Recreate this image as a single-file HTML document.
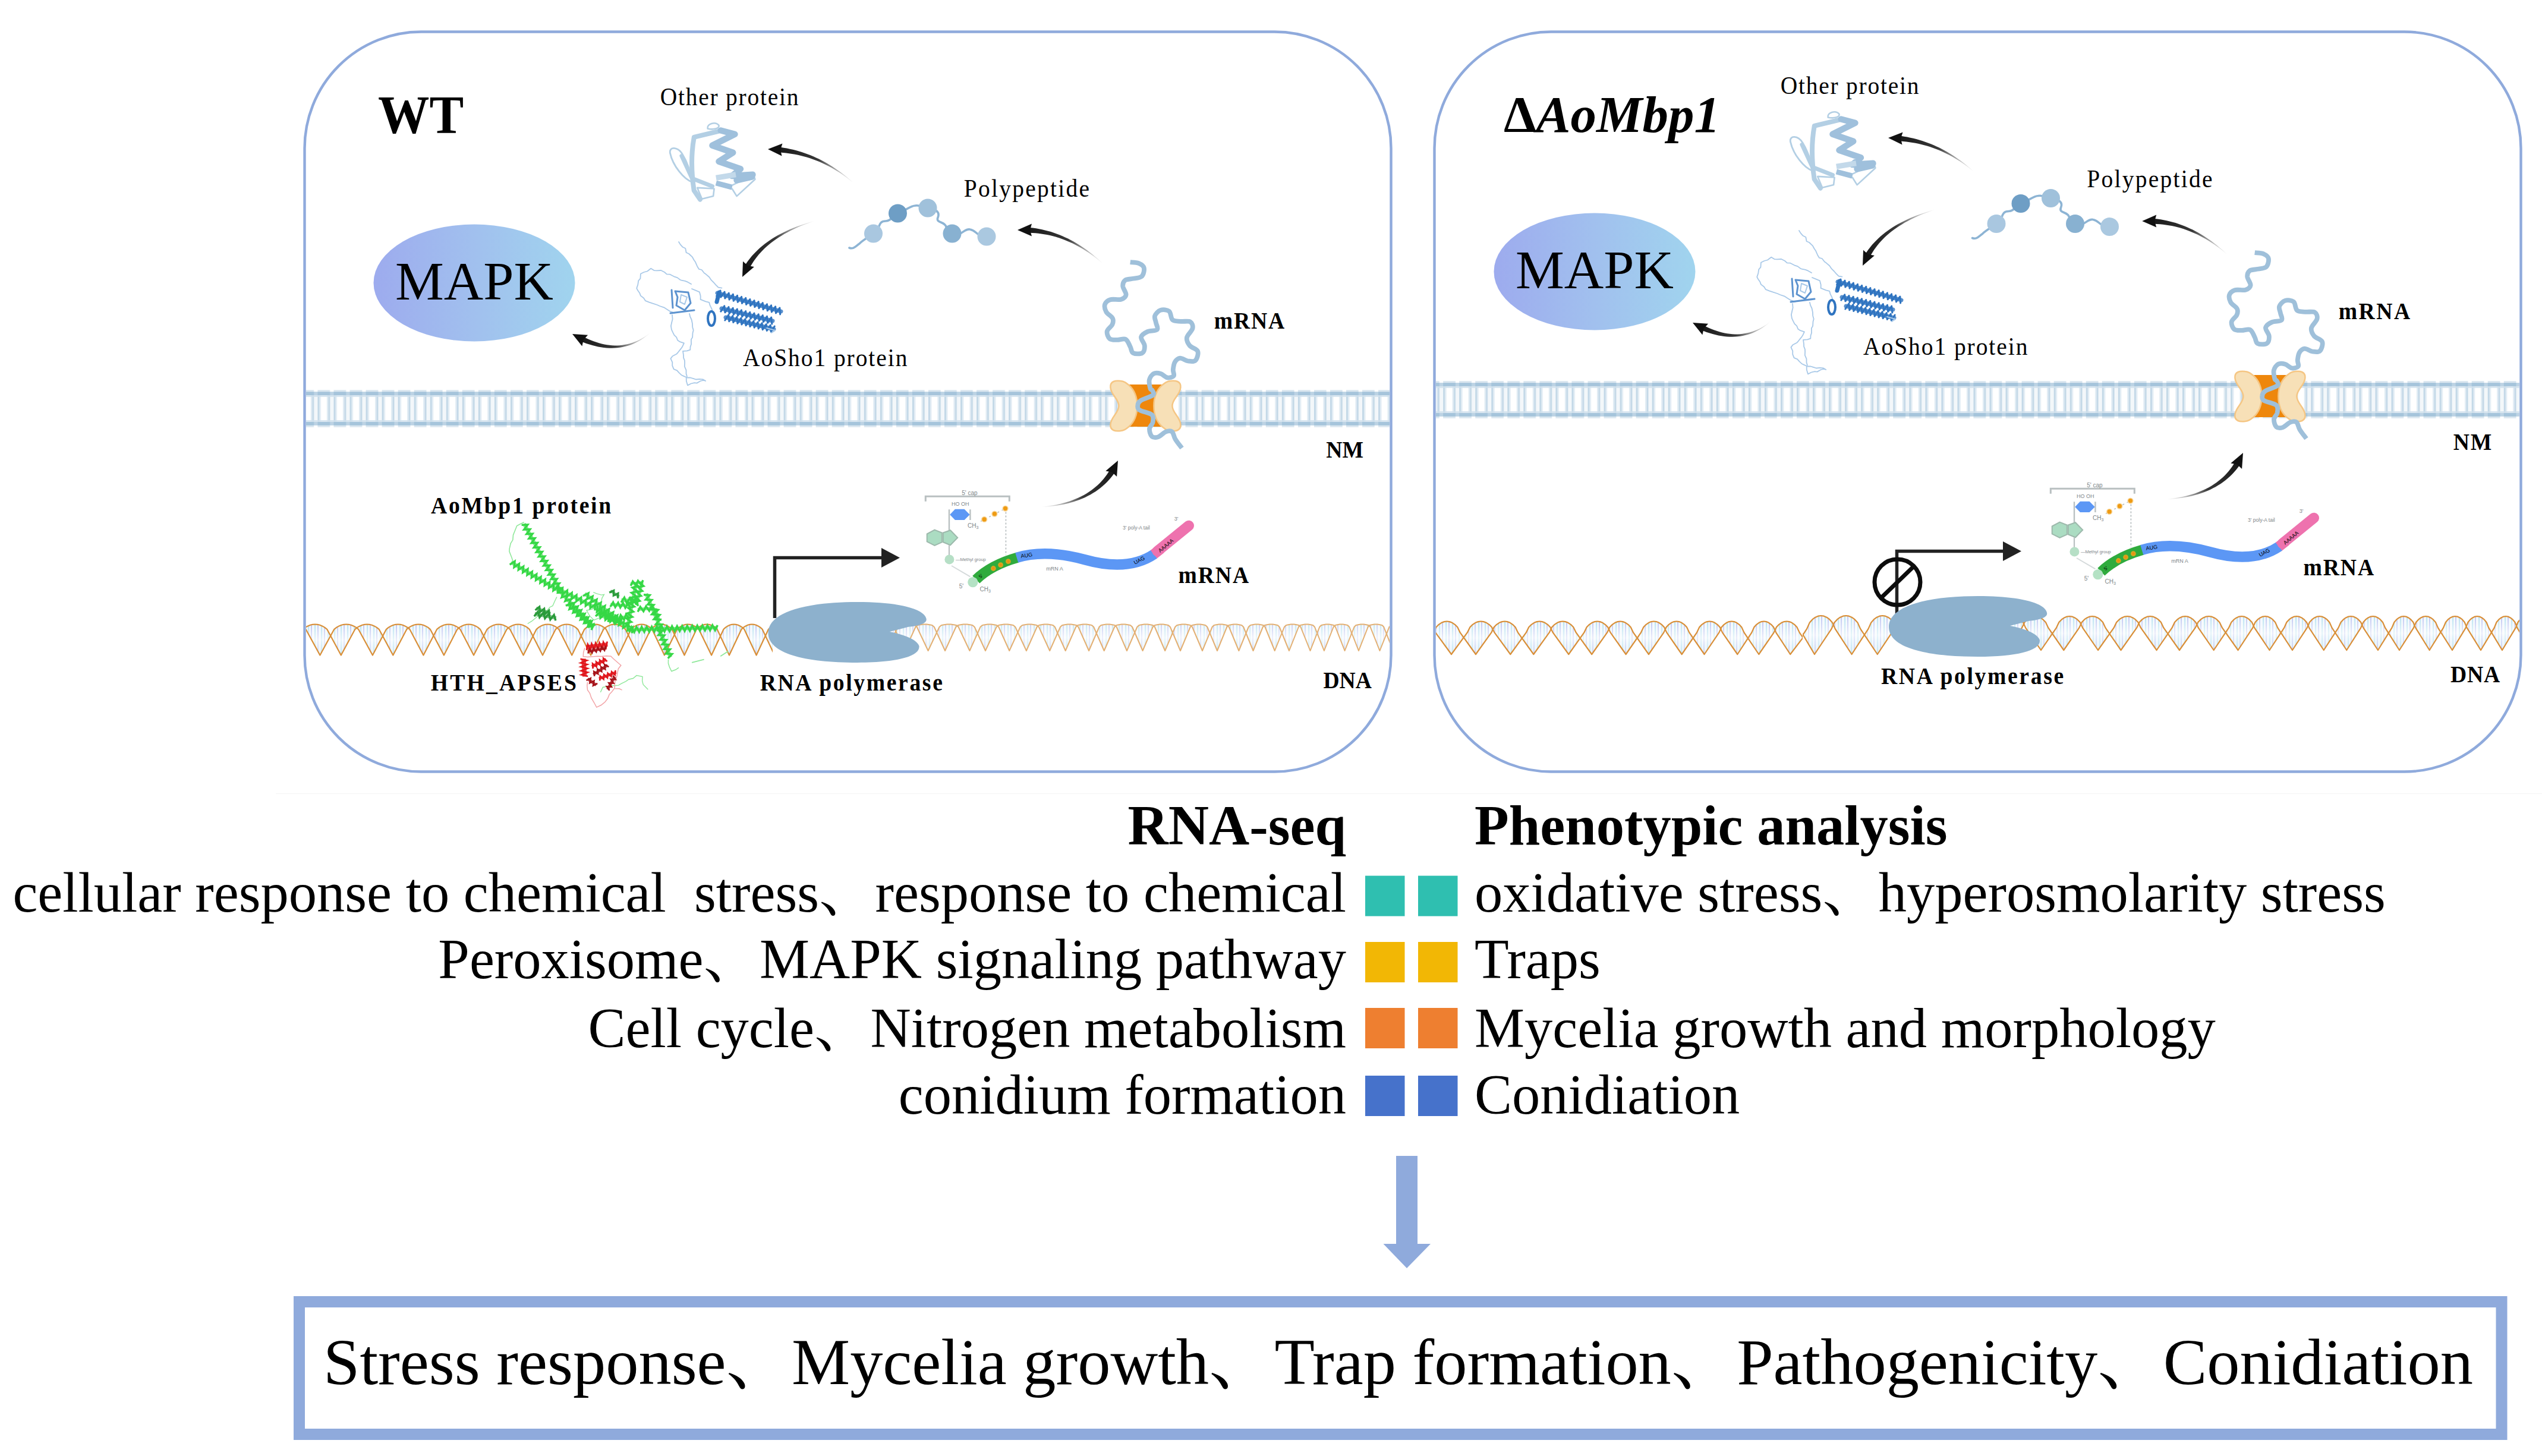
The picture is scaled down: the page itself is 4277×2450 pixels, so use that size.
<!DOCTYPE html>
<html><head><meta charset="utf-8"><title>AoMbp1 model</title>
<style>
html,body{margin:0;padding:0;background:#fff}
svg{display:block}
text{font-family:"Liberation Serif","Noto Serif CJK SC",serif;fill:#000}
.b{font-weight:bold}
.lab{font-size:41px;letter-spacing:1.2px;fill:#1a1a1a}
.labb{font-size:39px;letter-spacing:1.6px;font-weight:bold;fill:#111}
.big{font-size:94.5px}
.tiny{font-family:"Liberation Sans",sans-serif;fill:#7d8588}
</style></head><body>
<svg width="4277" height="2450" viewBox="0 0 4277 2450">
<defs>
<linearGradient id="mapk" x1="0" y1="0" x2="1" y2="0"><stop offset="0" stop-color="#9dabee"/><stop offset="0.5" stop-color="#a1c0ee"/><stop offset="1" stop-color="#a0d4ee"/></linearGradient>
<pattern id="memb" patternUnits="userSpaceOnUse" x="0" y="0" width="27.04" height="80"><rect x="0" y="0" width="27.04" height="80" fill="#f3f7fa"/><rect x="0" y="0" width="20.8" height="80" fill="#c3d8e7"/><rect x="2.8" y="0" width="15.2" height="80" fill="#e1ecf4"/><rect x="5.4" y="0" width="10" height="80" fill="#fff"/></pattern>
<pattern id="membl" patternUnits="userSpaceOnUse" x="0" y="0" width="27.04" height="80"><rect x="0" y="0" width="27.04" height="80" fill="#bcd3e4"/><rect x="0" y="0" width="20.8" height="80" fill="#a5c4db"/></pattern>
<pattern id="membf" patternUnits="userSpaceOnUse" x="0" y="0" width="27.04" height="80"><rect x="0" y="0" width="20.8" height="80" fill="#dbe7f0"/></pattern>
<pattern id="dnastripe" patternUnits="userSpaceOnUse" width="11" height="10"><rect width="11" height="10" fill="#eef6fc"/><rect x="1" width="2.2" height="10" fill="#9fd8ec"/><rect x="6" width="2" height="10" fill="#aab2ee"/></pattern>
<linearGradient id="dnafade" x1="0" y1="0" x2="0" y2="1"><stop offset="0" stop-color="#fff" stop-opacity="0.25"/><stop offset="0.5" stop-color="#fff" stop-opacity="0.75"/><stop offset="1" stop-color="#e4f1fa" stop-opacity="0.5"/></linearGradient>
</defs>
<rect x="512.5" y="53.5" width="1828" height="1245" rx="196" ry="196" fill="none" stroke="#8faadc" stroke-width="4.4"/>
<rect x="2413.5" y="53.5" width="1828" height="1245" rx="196" ry="196" fill="none" stroke="#8faadc" stroke-width="4.4"/>
<g transform="translate(507.4,0)">
<rect x="7.6" y="656.1" width="1823" height="62.8" fill="url(#membf)"/>
<rect x="7.6" y="662.1" width="1823" height="50.8" fill="url(#memb)"/>
<rect x="7.6" y="665" width="1823" height="3" fill="#d0e0ec" fill-opacity="0.8"/>
<rect x="7.6" y="707" width="1823" height="3" fill="#d0e0ec" fill-opacity="0.8"/>
<rect x="7.6" y="659.2" width="1823" height="5.8" fill="url(#membl)"/>
<rect x="7.6" y="710" width="1823" height="5.8" fill="url(#membl)"/>
</g>
<g transform="translate(1927.4,683)">
<rect x="-30" y="-36" width="60" height="71" fill="#ee870c"/>
<path d="M-59 -31 C-60 -42 -50 -43 -42 -42 C-36 -41.5 -33 -39 -28 -35 C-19 -27 -14 -14 -14 0 C-14 14 -19 27 -28 35 C-33 39 -36 41.5 -42 42 C-50 43 -60 42 -59 31 C-58 18 -45 12 -45 0 C-45 -12 -58 -18 -59 -31Z" fill="#f7e0b7" stroke="#f5c684" stroke-width="2.5"/>
<path d="M-59 -31 C-60 -42 -50 -43 -42 -42 C-36 -41.5 -33 -39 -28 -35 C-19 -27 -14 -14 -14 0 C-14 14 -19 27 -28 35 C-33 39 -36 41.5 -42 42 C-50 43 -60 42 -59 31 C-58 18 -45 12 -45 0 C-45 -12 -58 -18 -59 -31Z" transform="scale(-1,1)" fill="#f7e0b7" stroke="#f5c684" stroke-width="2.5"/>
</g>
<path d="M1901.7 441.2 C1904.1 441.5 1912.3 441.5 1916.2 443.1 C1920 444.7 1924 447.1 1924.8 450.8 C1925.6 454.5 1924.3 462.1 1921 465.2 C1917.6 468.2 1909.3 468 1904.6 469 C1900 470.1 1895.6 469.5 1893.1 471.5 C1890.5 473.6 1889 477.5 1889.2 481.5 C1889.5 485.6 1895.1 492.3 1894.6 496 C1894.1 499.6 1890.8 502.3 1886.3 503.7 C1881.9 505 1872.6 502.8 1868.1 504.2 C1863.5 505.7 1860.2 508.9 1859 512.3 C1857.9 515.7 1859.2 521 1861.3 524.8 C1863.5 528.7 1870.2 531.9 1871.9 535.4 C1873.6 538.9 1873.1 542.3 1871.5 546 C1870 549.6 1863.4 553.5 1862.7 557.5 C1862 561.5 1864.3 567.6 1867.1 570 C1869.9 572.4 1875.1 571.8 1879.6 571.9 C1884.1 572.1 1890.4 569 1894 571 C1897.7 572.9 1899.6 579.6 1901.7 583.5 C1903.8 587.3 1903.2 592.3 1906.5 594 C1909.9 595.8 1918.7 596.1 1921.9 594 C1925.1 592 1926.1 586 1925.8 581.5 C1925.4 577.1 1919.2 571 1920 567.1 C1920.8 563.2 1926.1 560.2 1930.6 558.1 C1935.1 556 1944.5 557.1 1946.9 554.6 C1949.3 552.1 1945.6 546.9 1945 543.1 C1944.4 539.2 1941.8 535.1 1943.1 531.5 C1944.4 528 1948.7 523.2 1952.7 521.9 C1956.7 520.6 1963.8 521.1 1967.1 523.8 C1970.5 526.6 1969.5 535.4 1972.9 538.3 C1976.2 541.1 1982.3 540.2 1987.3 540.8 C1992.3 541.3 1999.5 539.6 2002.7 541.5 C2005.9 543.5 2007.5 548.3 2006.5 552.7 C2005.6 557.1 1997.7 563.3 1996.9 568.1 C1996.1 572.9 1998.7 577.7 2001.7 581.5 C2004.8 585.4 2013.6 587 2015.2 591.2 C2016.8 595.3 2014.1 603.8 2011.3 606.5 C2008.6 609.3 2003.2 608.1 1998.8 607.5 C1994.5 606.9 1989.1 602.4 1985.4 602.7 C1981.7 603 1978.7 606.2 1976.7 609.4 C1974.8 612.6 1974.2 618.1 1973.8 621.9 C1973.5 625.8 1976.4 630.3 1974.8 632.5 C1973.2 634.7 1967.9 636 1964.2 635.4 C1960.5 634.7 1956.5 629.8 1952.7 628.7 C1948.8 627.5 1944.3 626.9 1941.2 628.7 C1938 630.4 1934.8 635.1 1933.8 639.2 C1932.9 643.4 1934.6 650.7 1935.4 653.7 C1936.2 656.6 1938 655 1938.8 656.9 C1939.5 658.7 1943.2 661.9 1939.9 664.8 C1936.6 667.7 1923.3 671.4 1919 674.2 C1914.8 677.1 1914.5 679.5 1914.3 682.1 C1914 684.8 1913.5 687.4 1917.4 690 C1921.4 692.7 1934.3 694.5 1938 697.9 C1941.7 701.4 1940.2 706.6 1939.6 710.6 C1938.9 714.5 1934.3 717.7 1934 721.6 C1933.8 725.6 1935.5 732 1938 734.3 C1940.5 736.5 1945.1 736.4 1949 735.1 C1953 733.8 1957.9 727.8 1961.7 726.4 C1965.5 724.9 1969.3 724.3 1971.9 726.4 C1974.6 728.5 1974.7 734.4 1977.5 739 C1980.2 743.6 1986.7 751.5 1988.5 754" fill="none" stroke="#9fc0da" stroke-width="7.8" stroke-linecap="butt" stroke-linejoin="round"/>
<g transform="translate(0,0)">
<text transform="translate(1110.8,177) scale(0.940,1)" font-size="42" letter-spacing="1.87" fill="#161616">Other protein</text>
<text transform="translate(1621.8,331) scale(0.940,1)" font-size="42" letter-spacing="2.41" fill="#161616">Polypeptide</text>
<text transform="translate(1250,616.3) scale(0.940,1)" font-size="42" letter-spacing="2.07" fill="#161616">AoSho1 protein</text>
<text transform="translate(2042.8,553) scale(0.930,1)" font-size="40.5" letter-spacing="1.92" font-weight="bold" fill="#161616">mRNA</text>
<ellipse cx="798" cy="476" rx="169.5" ry="98.5" fill="url(#mapk)"/>
<text x="798" y="504" font-size="92" text-anchor="middle" fill="#0a0a0a">MAPK</text>
<g fill="none" stroke-linecap="round" stroke-linejoin="round"><path d="M1190.6 216.4 C1189 208.5 1203.2 203.7 1209.5 210.8 C1211.1 216.4 1200.1 218.7 1190.6 216.4" stroke="#b3cfe4" stroke-width="2.6"/><path d="M1127.4 257.4 C1125.8 246.4 1140 246.4 1147.9 259 C1155.8 271.7 1162.1 290.6 1164.5 306.4 C1151.1 301.7 1132.1 279.6 1127.4 257.4 Z" stroke="#b3cfe4" stroke-width="2.8"/><path d="M1173.2 315.9 L1201.6 317.5 L1200.1 330.1 L1181.1 334.8 Z" stroke="#b3cfe4" stroke-width="2.6"/><path d="M1233.2 311.2 L1268 293.8 L1270.4 301.7 L1239.6 330.1 L1231.7 317.5" stroke="#b3cfe4" stroke-width="2.6"/><path d="M1168.5 230.6 L1208 221.1" stroke="#b3cfe4" stroke-width="8"/><path d="M1167.7 231.4 C1162.1 262.2 1163.7 293.8 1167.7 320.6 L1177.9 335.6" stroke="#b3cfe4" stroke-width="8"/><path d="M1146.4 262.2 L1165.3 303.3" stroke="#b3cfe4" stroke-width="6"/><path d="M1168.5 301.7 L1198.5 313.5" stroke="#b3cfe4" stroke-width="7"/><path d="M1212.7 219.5 L1236.4 225.8 L1198.5 244.8 L1233.2 256.7 L1209.5 271.7 L1245.9 284.3 L1231.7 296.1 L1266.4 293.8 L1239.6 303.3 L1264.8 297.7" stroke="#9fc0dc" stroke-width="10.5" stroke-linecap="round" stroke-linejoin="round"/><path d="M1204.8 299.3 L1238 293.8" stroke="#c3d9ea" stroke-width="9" stroke-linecap="butt"/><path d="M1204.8 308 L1231.7 315.1" stroke="#9fc0dc" stroke-width="9" stroke-linecap="butt"/></g>
<g transform="translate(0,0)"><g><path d="M1429 417 C1436 420 1440 414 1446 410 C1452 404 1460 400 1470 393 C1482 386 1476 372 1490 372 C1500 372 1502 362 1511 359 C1524 354 1532 346 1540 346 C1548 344 1552 350 1561 350 C1574 352 1582 356 1578 366 C1574 376 1590 372 1592 382 C1594 390 1598 392 1604 394 C1618 398 1622 384 1632 386 C1644 388 1642 398 1660 398" fill="none" stroke="#8db4d4" stroke-width="3.6" stroke-linecap="round"/><circle cx="1469.5" cy="393" r="15.5" fill="#a9c7e0"/><circle cx="1510.5" cy="359" r="15.5" fill="#6e9ec5"/><circle cx="1561" cy="350" r="15.5" fill="#a0c1db"/><circle cx="1602" cy="393" r="15.5" fill="#88b1d1"/><circle cx="1660" cy="398" r="15.5" fill="#aac8e0"/></g></g>
<g fill="none" stroke-linejoin="round" stroke-linecap="round"><path d="M1142 407 L1144.7 411.4 L1148.7 415.8 L1153.3 418 L1154.6 425 L1159.1 427 L1165 432.7 L1167.6 437.5 L1170.1 441.1 L1173.3 448.5 L1176.1 452.9 L1180.6 454 L1184.9 459.5 L1187.3 461.1 L1193.3 466.3 L1196.8 471.4 L1201 475.5 L1204.1 479.1 L1208.6 483.6 L1214.4 484.6" stroke="#a9c9e8" stroke-width="1.8"/><path d="M1163 478 L1157.2 474.7 L1152.7 472.9 L1146.6 471.7 L1144.7 471 L1139.5 467.1 L1134.1 465.3 L1127.3 461.7 L1121.8 461.4 L1118.1 458 L1112.2 455 L1104.9 455.4 L1100.5 455.1 L1095.2 451.7 L1089 456.5 L1083.4 458 L1077.9 460.7 L1077.4 468.7 L1074.2 472.4 L1073.3 478.7 L1071.2 485.1 L1073 488.5 L1076.3 493.3 L1077.9 497.6 L1083 501.5 L1086 506.2 L1092.3 508.6 L1098.4 510.7 L1105.6 513 L1110.1 515 L1117.1 517.3 L1122.5 520.8 L1127.9 524.2 L1135.3 526.7" stroke="#a9c9e8" stroke-width="1.8"/><path d="M1164 486 L1170.4 488.7 L1176.9 491.3 L1178.7 498.3 L1178.6 503.9 L1187.3 507.4 L1193.2 508.8 L1194.6 513.9 L1197.5 519.6 L1198.5 523.2" stroke="#a9c9e8" stroke-width="1.8"/><path d="M1131 530 L1131.6 536.9 L1130.5 541.3 L1128.9 548.5 L1129.9 554.7 L1132.1 559.3 L1134.4 563.8 L1138.1 567.3 L1140.1 572.5 L1144.1 575.2 L1150.9 577.3 L1148.2 583.2 L1145.6 586.9 L1140.9 592.8 L1138.2 595.8 L1131.5 599.2 L1128.4 603.4 L1131.3 609.6 L1131.2 615.1 L1133.6 621.2 L1139.1 623.4 L1142.4 627.2 L1146.9 631.3 L1149.7 632.6 L1156.3 635.5 L1161.6 635.5 L1167.7 637.4 L1170.9 638.5 L1176.8 637.8 L1182.6 638.3 L1187.2 641 L1183.6 639.8 L1178.8 641 L1172.5 644.6 L1168.3 644.1 L1162.7 645.5 L1157 648.4 L1154.8 641.3 L1154.7 635.7" stroke="#a9c9e8" stroke-width="1.8"/><path d="M1160 528 L1161.1 532.6 L1163.6 538 L1164.9 544.4 L1165.2 550.4 L1166.7 555.8 L1165.5 560.2 L1165.1 567.6 L1162.9 571.2 L1163 579.3 L1161.5 583.7 L1161.3 588.7 L1156 590.4 L1149 590.9 L1150 597.9 L1150.1 602.2 L1151.9 606.6 L1152.1 610.8 L1151.8 616.7 L1154.5 622.8 L1154.5 628.7 L1155.9 633.4" stroke="#a9c9e8" stroke-width="1.8"/><path d="M1130 488 L1132 518 M1128 527 L1168 522 M1136 490 L1158 492 L1162 510 L1152 522 L1138 514 L1140 500 Z" stroke="#5d93cf" stroke-width="3"/><path d="M1146 496 L1156 500 L1152 512 L1144 508Z" stroke="#a9c9e8" stroke-width="2"/><path d="M1207 493 L1314 524" stroke="#2f74c0" stroke-width="7" stroke-opacity="0.8"/><path d="M1205.6 498 L1212 489 L1212.7 500.1 L1219.1 491.1 L1219.8 502.1 L1226.3 493.2 L1227 504.2 L1233.4 495.2 L1234.1 506.3 L1240.5 497.3 L1241.2 508.3 L1247.7 499.4 L1248.4 510.4 L1254.8 501.4 L1255.5 512.5 L1261.9 503.5 L1262.6 514.5 L1269.1 505.6 L1269.8 516.6 L1276.2 507.6 L1276.9 518.7 L1283.3 509.7 L1284 520.7 L1290.5 511.8 L1291.2 522.8 L1297.6 513.8 L1298.3 524.9 L1304.7 515.9 L1305.4 526.9 L1311.9 518 L1312.6 529" stroke="#2f74c0" stroke-width="3"/><path d="M1214 519 L1300 540" stroke="#2f74c0" stroke-width="7" stroke-opacity="0.8"/><path d="M1212.8 524.1 L1218.8 514.8 L1219.9 525.8 L1226 516.6 L1227.1 527.6 L1233.2 518.3 L1234.3 529.3 L1240.3 520.1 L1241.4 531.1 L1247.5 521.8 L1248.6 532.8 L1254.7 523.6 L1255.8 534.6 L1261.8 525.3 L1262.9 536.3 L1269 527.1 L1270.1 538.1 L1276.2 528.8 L1277.3 539.8 L1283.3 530.6 L1284.4 541.6 L1290.5 532.3 L1291.6 543.3 L1297.7 534.1 L1298.8 545.1" stroke="#2f74c0" stroke-width="3"/><path d="M1221 534 L1302 554" stroke="#2f74c0" stroke-width="7" stroke-opacity="0.8"/><path d="M1219.8 539 L1225.8 529.8 L1226.8 540.8 L1232.8 531.6 L1233.8 542.5 L1239.9 533.3 L1240.9 544.3 L1246.9 535 L1247.9 546 L1253.9 536.8 L1255 547.7 L1261 538.5 L1262 549.5 L1268 540.3 L1269.1 551.2 L1275.1 542 L1276.1 553 L1282.1 543.7 L1283.1 554.7 L1289.2 545.5 L1290.2 556.4 L1296.2 547.2 L1297.2 558.2 L1303.2 549" stroke="#2f74c0" stroke-width="3"/><path d="M1210 492 L1206 508" stroke="#2f74c0" stroke-width="7"/><ellipse cx="1197" cy="536" rx="6" ry="12" stroke="#2f74c0" stroke-width="4"/><path d="M1290 552 L1304 556 L1298 560" stroke="#a9c9e8" stroke-width="2"/></g>
<linearGradient id="ag1" gradientUnits="userSpaceOnUse" x1="1435" y1="307" x2="1292" y2="251"><stop offset="0" stop-color="#555" stop-opacity="0"/><stop offset="0.45" stop-color="#222" stop-opacity="0.9"/><stop offset="1" stop-color="#111"/></linearGradient><path d="M1435.2 306.8 L1431 303.1 L1426.8 299.5 L1422.6 296.1 L1418.3 292.7 L1414 289.5 L1409.6 286.4 L1405.3 283.4 L1400.8 280.5 L1396.3 277.7 L1391.8 275 L1387.3 272.4 L1382.7 270 L1378 267.6 L1373.3 265.4 L1368.6 263.3 L1363.8 261.3 L1359 259.5 L1354.1 257.7 L1349.2 256.1 L1344.2 254.5 L1339.2 253.1 L1334.2 251.8 L1329.1 250.7 L1323.9 249.6 L1318.7 248.7 L1313.5 247.8 L1308.2 247.1 L1307.5 256.3 L1312.6 256.6 L1317.7 257 L1322.7 257.5 L1327.7 258.2 L1332.7 258.9 L1337.7 259.8 L1342.6 260.8 L1347.6 261.9 L1352.4 263.2 L1357.3 264.6 L1362.1 266.1 L1366.9 267.7 L1371.7 269.4 L1376.4 271.3 L1381.1 273.3 L1385.8 275.4 L1390.4 277.7 L1395 280.1 L1399.6 282.6 L1404.1 285.2 L1408.6 287.9 L1413.1 290.8 L1417.5 293.8 L1421.9 297 L1426.2 300.3 L1430.5 303.7 L1434.8 307.2Z" fill="url(#ag1)"/><path d="M1292 251 L1316.5 241.6 L1313.1 252 L1315.5 262.6Z" fill="#111"/>
<linearGradient id="ag2" gradientUnits="userSpaceOnUse" x1="1370" y1="372" x2="1249" y2="466"><stop offset="0" stop-color="#555" stop-opacity="0"/><stop offset="0.45" stop-color="#222" stop-opacity="0.9"/><stop offset="1" stop-color="#111"/></linearGradient><path d="M1369.9 371.7 L1363.6 373.5 L1357.5 375.4 L1351.5 377.4 L1345.6 379.4 L1339.9 381.6 L1334.3 383.8 L1328.9 386 L1323.6 388.4 L1318.5 390.9 L1313.5 393.4 L1308.6 396 L1303.9 398.8 L1299.4 401.6 L1295 404.5 L1290.7 407.5 L1286.6 410.6 L1282.6 413.8 L1278.7 417 L1275 420.4 L1271.5 423.9 L1268.1 427.5 L1264.8 431.1 L1261.7 434.9 L1258.7 438.8 L1255.9 442.8 L1253.3 446.8 L1261.1 451.3 L1263.2 447.4 L1265.6 443.5 L1268.1 439.6 L1270.7 435.9 L1273.5 432.2 L1276.5 428.5 L1279.7 425 L1283 421.5 L1286.4 418.1 L1290 414.8 L1293.8 411.5 L1297.8 408.3 L1301.9 405.2 L1306.1 402.2 L1310.6 399.2 L1315.2 396.4 L1319.9 393.6 L1324.9 390.9 L1329.9 388.2 L1335.2 385.7 L1340.6 383.2 L1346.2 380.8 L1351.9 378.6 L1357.8 376.4 L1363.9 374.3 L1370.1 372.3Z" fill="url(#ag2)"/><path d="M1249 466 L1250 439.8 L1258.2 447 L1268.9 448.9Z" fill="#111"/>
<linearGradient id="ag3" gradientUnits="userSpaceOnUse" x1="1094" y1="560" x2="963" y2="562"><stop offset="0" stop-color="#555" stop-opacity="0"/><stop offset="0.45" stop-color="#222" stop-opacity="0.9"/><stop offset="1" stop-color="#111"/></linearGradient><path d="M1093.8 559.8 L1090.2 562.7 L1086.4 565.4 L1082.7 567.8 L1078.9 570.1 L1075 572.2 L1071.1 574 L1067.2 575.6 L1063.2 577.1 L1059.2 578.3 L1055.1 579.3 L1051 580.1 L1046.9 580.7 L1042.7 581.2 L1038.5 581.4 L1034.2 581.4 L1029.9 581.2 L1025.6 580.8 L1021.2 580.2 L1016.8 579.4 L1012.4 578.4 L1007.9 577.2 L1003.3 575.8 L998.8 574.2 L994.2 572.4 L989.5 570.4 L984.8 568.2 L980.1 565.8 L976.3 574 L981.4 576 L986.5 577.9 L991.6 579.6 L996.6 581 L1001.5 582.3 L1006.4 583.4 L1011.2 584.3 L1015.9 584.9 L1020.6 585.4 L1025.2 585.7 L1029.8 585.8 L1034.3 585.6 L1038.7 585.3 L1043.1 584.8 L1047.4 584.1 L1051.6 583.1 L1055.8 582 L1059.9 580.7 L1064 579.2 L1067.9 577.5 L1071.9 575.6 L1075.7 573.5 L1079.5 571.2 L1083.3 568.8 L1087 566.1 L1090.6 563.2 L1094.2 560.2Z" fill="url(#ag3)"/><path d="M963 562 L989.1 563.8 L981.7 571.8 L979.4 582.4Z" fill="#111"/>
<g transform="translate(0,0)"><linearGradient id="ag4" gradientUnits="userSpaceOnUse" x1="1855" y1="443" x2="1712" y2="387"><stop offset="0" stop-color="#555" stop-opacity="0"/><stop offset="0.45" stop-color="#222" stop-opacity="0.9"/><stop offset="1" stop-color="#111"/></linearGradient><path d="M1855.2 442.8 L1850.9 438.9 L1846.6 435.1 L1842.2 431.4 L1837.9 427.8 L1833.5 424.4 L1829 421.1 L1824.6 417.9 L1820.1 414.9 L1815.5 412 L1811 409.2 L1806.4 406.5 L1801.7 404 L1797.1 401.6 L1792.4 399.4 L1787.6 397.3 L1782.8 395.3 L1778 393.4 L1773.2 391.7 L1768.3 390.1 L1763.3 388.7 L1758.3 387.4 L1753.3 386.2 L1748.3 385.2 L1743.2 384.3 L1738 383.5 L1732.9 382.9 L1727.7 382.4 L1727.3 391.6 L1732.3 391.7 L1737.2 391.9 L1742.2 392.3 L1747.1 392.8 L1752 393.4 L1756.9 394.2 L1761.8 395.1 L1766.6 396.1 L1771.5 397.3 L1776.3 398.6 L1781.1 400.1 L1785.9 401.7 L1790.6 403.5 L1795.4 405.4 L1800.1 407.4 L1804.8 409.6 L1809.5 411.9 L1814.1 414.4 L1818.7 417 L1823.3 419.8 L1827.9 422.7 L1832.5 425.7 L1837 428.9 L1841.5 432.3 L1846 435.8 L1850.4 439.4 L1854.8 443.2Z" fill="url(#ag4)"/><path d="M1712 387 L1736 376.5 L1733.1 387 L1736 397.5Z" fill="#111"/></g>
</g>
<text transform="translate(636,223.5) scale(1,1.04)" font-size="86.5" class="b">WT</text>
<g transform="translate(0,0)">
<text transform="translate(2231.2,770) scale(0.930,1)" font-size="40.5" letter-spacing="0.00" font-weight="bold" fill="#161616">NM</text>
<text transform="translate(2226.4,1157.5) scale(0.928,1)" font-size="40.5" letter-spacing="0.00" font-weight="bold" fill="#161616">DNA</text>
<text transform="translate(1982.5,980.6) scale(0.930,1)" font-size="40.5" letter-spacing="2.03" font-weight="bold" fill="#161616">mRNA</text>
<linearGradient id="ag5" gradientUnits="userSpaceOnUse" x1="1753" y1="853" x2="1881" y2="775"><stop offset="0" stop-color="#555" stop-opacity="0"/><stop offset="0.45" stop-color="#222" stop-opacity="0.9"/><stop offset="1" stop-color="#111"/></linearGradient><path d="M1753 853.3 L1759.4 852.8 L1765.7 852.3 L1771.8 851.6 L1777.8 850.8 L1783.7 849.8 L1789.4 848.7 L1795 847.4 L1800.4 846.1 L1805.8 844.5 L1810.9 842.8 L1816 841 L1820.9 839 L1825.7 836.9 L1830.3 834.6 L1834.9 832.2 L1839.2 829.6 L1843.5 826.9 L1847.6 824 L1851.6 821 L1855.4 817.8 L1859.1 814.4 L1862.7 810.9 L1866.1 807.2 L1869.4 803.4 L1872.5 799.4 L1875.5 795.3 L1878.3 791 L1869.9 786.1 L1867.6 790.3 L1865.2 794.3 L1862.6 798.3 L1859.8 802.1 L1856.9 805.7 L1853.8 809.3 L1850.6 812.7 L1847.2 815.9 L1843.7 819.1 L1840 822.1 L1836.2 825 L1832.1 827.8 L1828 830.4 L1823.7 832.9 L1819.2 835.3 L1814.5 837.5 L1809.7 839.6 L1804.8 841.6 L1799.6 843.4 L1794.4 845.1 L1788.9 846.6 L1783.3 848 L1777.6 849.2 L1771.6 850.3 L1765.6 851.3 L1759.4 852.1 L1753 852.7Z" fill="url(#ag5)"/><path d="M1881 775 L1879.1 802 L1871.1 794.6 L1860.3 792.6Z" fill="#111"/>
<g><path d="M1557.3 843.8 L1557.3 835.2 L1698.3 835.2 L1698.3 843.8" fill="none" stroke="#b9c0c1" stroke-width="3"/><text x="1631.5" y="833.2" class="tiny" font-size="10" text-anchor="middle">5' cap</text><text x="1615.7" y="850.9" class="tiny" font-size="9" text-anchor="middle">HO OH</text><path d="M1597 857.2 L1597 892.6 M1632.4 857.2 L1632.4 874.9" stroke="#b9c0c1" stroke-width="2.4" fill="none"/><path d="M1598.2 866.1 L1606.9 856.8 L1622.6 856.8 L1631.7 866.1 L1622.6 874.9 L1606.9 874.9 Z" fill="#5c97f5"/><text x="1628.1" y="887.7" class="tiny" font-size="10">CH<tspan font-size="7" dy="2">3</tspan></text><path d="M1650.1 877.3 L1691.5 855.6" stroke="#b9c0c1" stroke-width="1.6" stroke-dasharray="3 5" fill="none"/><circle cx="1656.1" cy="873.9" r="5.2" fill="#f9d9a0"/><circle cx="1656.1" cy="873.9" r="3.6" fill="#ee9b14"/><circle cx="1673.4" cy="864.7" r="5.2" fill="#f9d9a0"/><circle cx="1673.4" cy="864.7" r="3.6" fill="#ee9b14"/><circle cx="1691.5" cy="855.6" r="5.2" fill="#f9d9a0"/><circle cx="1691.5" cy="855.6" r="3.6" fill="#ee9b14"/><path d="M1692.4 861.5 L1692.4 934.3" stroke="#b9c0c1" stroke-width="1.8" stroke-dasharray="3 3" fill="none"/><path d="M1559.7 898.5 L1572.5 891.6 L1584.8 896.5 L1584.8 912.3 L1572.5 917.8 L1559.7 911.3 Z" fill="#abdcc2" stroke="#9db9ac" stroke-width="2"/><path d="M1586.8 896.5 L1599 892.2 L1611.2 904.8 L1599 917.2 L1586.8 912.3 Z" fill="#abdcc2" stroke="#9db9ac" stroke-width="2"/><path d="M1597 917.2 L1597 935.9" stroke="#b9c0c1" stroke-width="2.2" fill="none"/><circle cx="1597.4" cy="941.4" r="8" fill="#b6dfc6"/><text x="1607.9" y="943.8" class="tiny" font-size="7.5">—Methyl group</text><path d="M1601 952 L1632.4 970.3" stroke="#d5dadb" stroke-width="2" fill="none"/><path d="M1642.3 975.2 Q1667.9 950.6 1712.1 938.2" fill="none" stroke="#2fab3d" stroke-width="17.5"/><circle cx="1636.8" cy="979.6" r="8.6" fill="#b4e2c4"/><circle cx="1671.4" cy="956.5" r="4.4" fill="#d6a51e"/><circle cx="1671.4" cy="956.5" r="2" fill="#ee8d10"/><circle cx="1683.6" cy="950.6" r="4.4" fill="#d6a51e"/><circle cx="1683.6" cy="950.6" r="2" fill="#ee8d10"/><circle cx="1696.4" cy="944.7" r="4.4" fill="#d6a51e"/><circle cx="1696.4" cy="944.7" r="2" fill="#ee8d10"/><path d="M1710.7 938.4 C1746.5 927.6 1785.9 931 1825.2 941.8 C1874.4 955.6 1913.7 951.6 1942.2 932.3" fill="none" stroke="#5c97f5" stroke-width="17.5"/><path d="M1947.2 927.6 L2000.3 884.4" fill="none" stroke="#ee72ae" stroke-width="17.5" stroke-linecap="round"/><path d="M1941.3 932.7 L1953.1 923.1" fill="none" stroke="#ee72ae" stroke-width="17.5"/><text x="1718" y="938.8" font-size="9" style="font-family:'Liberation Sans',sans-serif" fill="#2c4f9a" transform="rotate(-8 1718 938.8)">AUG</text><text x="1909.8" y="950" font-size="9" style="font-family:'Liberation Sans',sans-serif" fill="#2c4f9a" transform="rotate(-28 1909.8 950)">UAG</text><text x="1952.1" y="930" font-size="9" style="font-family:'Liberation Sans',sans-serif" fill="#7a2d58" transform="rotate(-40 1952.1 930)">AAAAA</text><text x="1650.1" y="973.3" font-size="8" style="font-family:'Liberation Sans',sans-serif" fill="#1d6b2a" transform="rotate(-45 1650.1 973.3)">5'</text><text x="1760.3" y="959.9" class="tiny" font-size="9">mRN A</text><text x="1889.1" y="891" class="tiny" font-size="8.5">3' poly-A tail</text><text x="1975.7" y="875.9" class="tiny" font-size="9">3'</text><text x="1613.8" y="990" class="tiny" font-size="10">5'</text><text x="1648.6" y="994.9" class="tiny" font-size="10">CH<tspan font-size="7" dy="2">3</tspan></text></g>
</g>
<clipPath id="cdl1"><rect x="515" y="1020.5" width="785" height="92"/></clipPath>
<g clip-path="url(#cdl1)" opacity="1.0">
<path d="M449.9 1102.5 L473.8 1058.8 L477.9 1055.6 L481.9 1053.4 L486 1051.8 L490.1 1050.8 L494.1 1050.5 L498.2 1050.8 L502.3 1051.8 L506.4 1053.4 L510.4 1055.6 L514.5 1058.8 L538.4 1102.5 L562.3 1058.8 L566.4 1055.6 L570.4 1053.4 L574.5 1051.8 L578.6 1050.8 L582.6 1050.5 L586.7 1050.8 L590.8 1051.8 L594.9 1053.4 L598.9 1055.6 L603 1058.8 L626.9 1102.5 L650 1058.8 L653.9 1055.6 L657.9 1053.4 L661.8 1051.8 L665.7 1050.8 L669.6 1050.5 L673.6 1050.8 L677.5 1051.8 L681.4 1053.4 L685.4 1055.6 L689.3 1058.8 L712.4 1102.5 L735.2 1058.8 L739.1 1055.6 L743 1053.4 L746.9 1051.8 L750.8 1050.8 L754.7 1050.5 L758.6 1050.8 L762.5 1051.8 L766.4 1053.4 L770.3 1055.6 L774.2 1058.8 L797 1102.5 L819.6 1058.8 L823.4 1055.6 L827.3 1053.4 L831.1 1051.8 L835 1050.8 L838.8 1050.5 L842.6 1050.8 L846.5 1051.8 L850.3 1053.4 L854.2 1055.6 L858 1058.8 L880.6 1102.5 L902.6 1058.8 L906.4 1055.6 L910.1 1053.4 L913.9 1051.8 L917.6 1050.8 L921.4 1050.5 L925.2 1050.8 L928.9 1051.8 L932.7 1053.4 L936.4 1055.6 L940.2 1058.8 L962.2 1102.5 L983.4 1058.8 L987.1 1055.6 L990.7 1053.4 L994.3 1051.8 L997.9 1050.8 L1001.6 1050.5 L1005.2 1050.8 L1008.8 1051.8 L1012.4 1053.4 L1016 1055.6 L1019.7 1058.8 L1040.9 1102.5 L1061.7 1058.8 L1065.2 1055.6 L1068.8 1053.4 L1072.3 1051.8 L1075.9 1050.8 L1079.4 1050.5 L1082.9 1050.8 L1086.5 1051.8 L1090 1053.4 L1093.6 1055.6 L1097.1 1058.8 L1117.9 1102.5 L1139.3 1058.8 L1142.9 1055.6 L1146.6 1053.4 L1150.2 1051.8 L1153.9 1050.8 L1157.5 1050.5 L1161.1 1050.8 L1164.8 1051.8 L1168.4 1053.4 L1172.1 1055.6 L1175.7 1058.8 L1197.1 1102.5 L1217.5 1058.8 L1221 1055.6 L1224.4 1053.4 L1227.9 1051.8 L1231.4 1050.8 L1234.8 1050.5 L1238.3 1050.8 L1241.8 1051.8 L1245.3 1053.4 L1248.7 1055.6 L1252.2 1058.8 L1272.6 1102.5 L1293 1058.8 L1296.5 1055.6 L1299.9 1053.4 L1303.4 1051.8 L1306.9 1050.8 L1310.3 1050.5 L1313.8 1050.8 L1317.3 1051.8 L1320.8 1053.4 L1324.2 1055.6 L1327.7 1058.8 L1348.1 1102.5 L1379.4 1102.5 L1358.8 1058.8 L1355.3 1055.6 L1351.8 1053.4 L1348.3 1051.8 L1344.8 1050.8 L1341.3 1050.5 L1337.8 1050.8 L1334.3 1051.8 L1330.8 1053.4 L1327.3 1055.6 L1323.8 1058.8 L1303.2 1102.5 L1282.6 1058.8 L1279.1 1055.6 L1275.6 1053.4 L1272.1 1051.8 L1268.6 1050.8 L1265.1 1050.5 L1261.6 1050.8 L1258.1 1051.8 L1254.6 1053.4 L1251.1 1055.6 L1247.6 1058.8 L1227 1102.5 L1206.6 1058.8 L1203.1 1055.6 L1199.7 1053.4 L1196.2 1051.8 L1192.7 1050.8 L1189.2 1050.5 L1185.8 1050.8 L1182.3 1051.8 L1178.8 1053.4 L1175.4 1055.6 L1171.9 1058.8 L1151.5 1102.5 L1130.5 1058.8 L1126.9 1055.6 L1123.4 1053.4 L1119.8 1051.8 L1116.2 1050.8 L1112.7 1050.5 L1109.1 1050.8 L1105.5 1051.8 L1101.9 1053.4 L1098.4 1055.6 L1094.8 1058.8 L1073.8 1102.5 L1052.3 1058.8 L1048.6 1055.6 L1044.9 1053.4 L1041.2 1051.8 L1037.6 1050.8 L1033.9 1050.5 L1030.2 1050.8 L1026.6 1051.8 L1022.9 1053.4 L1019.2 1055.6 L1015.5 1058.8 L994 1102.5 L972.1 1058.8 L968.4 1055.6 L964.7 1053.4 L961 1051.8 L957.2 1050.8 L953.5 1050.5 L949.8 1050.8 L946 1051.8 L942.3 1053.4 L938.6 1055.6 L934.9 1058.8 L913 1102.5 L890.7 1058.8 L886.9 1055.6 L883.1 1053.4 L879.3 1051.8 L875.5 1050.8 L871.7 1050.5 L867.9 1050.8 L864.1 1051.8 L860.3 1053.4 L856.5 1055.6 L852.7 1058.8 L830.4 1102.5 L807.9 1058.8 L804 1055.6 L800.2 1053.4 L796.3 1051.8 L792.5 1050.8 L788.6 1050.5 L784.8 1050.8 L781 1051.8 L777.1 1053.4 L773.3 1055.6 L769.4 1058.8 L746.9 1102.5 L723.8 1058.8 L719.9 1055.6 L715.9 1053.4 L712 1051.8 L708 1050.8 L704.1 1050.5 L700.2 1050.8 L696.2 1051.8 L692.3 1053.4 L688.3 1055.6 L684.4 1058.8 L661.3 1102.5 L637.7 1058.8 L633.6 1055.6 L629.6 1053.4 L625.6 1051.8 L621.6 1050.8 L617.5 1050.5 L613.5 1050.8 L609.5 1051.8 L605.5 1053.4 L601.4 1055.6 L597.4 1058.8 L573.8 1102.5 L550.2 1058.8 L546.1 1055.6 L542.1 1053.4 L538.1 1051.8 L534.1 1050.8 L530 1050.5 L526 1050.8 L522 1051.8 L518 1053.4 L513.9 1055.6 L509.9 1058.8 L486.3 1102.5 L462.7 1058.8 L458.6 1055.6 L454.6 1053.4 L450.6 1051.8 L446.6 1050.8 L442.5 1050.5 L438.5 1050.8 L434.5 1051.8 L430.5 1053.4 L426.4 1055.6 L422.4 1058.8 L398.8 1102.5 Z" fill="url(#dnastripe)" fill-rule="nonzero"/>
<path d="M449.9 1102.5 L473.8 1058.8 L477.9 1055.6 L481.9 1053.4 L486 1051.8 L490.1 1050.8 L494.1 1050.5 L498.2 1050.8 L502.3 1051.8 L506.4 1053.4 L510.4 1055.6 L514.5 1058.8 L538.4 1102.5 L562.3 1058.8 L566.4 1055.6 L570.4 1053.4 L574.5 1051.8 L578.6 1050.8 L582.6 1050.5 L586.7 1050.8 L590.8 1051.8 L594.9 1053.4 L598.9 1055.6 L603 1058.8 L626.9 1102.5 L650 1058.8 L653.9 1055.6 L657.9 1053.4 L661.8 1051.8 L665.7 1050.8 L669.6 1050.5 L673.6 1050.8 L677.5 1051.8 L681.4 1053.4 L685.4 1055.6 L689.3 1058.8 L712.4 1102.5 L735.2 1058.8 L739.1 1055.6 L743 1053.4 L746.9 1051.8 L750.8 1050.8 L754.7 1050.5 L758.6 1050.8 L762.5 1051.8 L766.4 1053.4 L770.3 1055.6 L774.2 1058.8 L797 1102.5 L819.6 1058.8 L823.4 1055.6 L827.3 1053.4 L831.1 1051.8 L835 1050.8 L838.8 1050.5 L842.6 1050.8 L846.5 1051.8 L850.3 1053.4 L854.2 1055.6 L858 1058.8 L880.6 1102.5 L902.6 1058.8 L906.4 1055.6 L910.1 1053.4 L913.9 1051.8 L917.6 1050.8 L921.4 1050.5 L925.2 1050.8 L928.9 1051.8 L932.7 1053.4 L936.4 1055.6 L940.2 1058.8 L962.2 1102.5 L983.4 1058.8 L987.1 1055.6 L990.7 1053.4 L994.3 1051.8 L997.9 1050.8 L1001.6 1050.5 L1005.2 1050.8 L1008.8 1051.8 L1012.4 1053.4 L1016 1055.6 L1019.7 1058.8 L1040.9 1102.5 L1061.7 1058.8 L1065.2 1055.6 L1068.8 1053.4 L1072.3 1051.8 L1075.9 1050.8 L1079.4 1050.5 L1082.9 1050.8 L1086.5 1051.8 L1090 1053.4 L1093.6 1055.6 L1097.1 1058.8 L1117.9 1102.5 L1139.3 1058.8 L1142.9 1055.6 L1146.6 1053.4 L1150.2 1051.8 L1153.9 1050.8 L1157.5 1050.5 L1161.1 1050.8 L1164.8 1051.8 L1168.4 1053.4 L1172.1 1055.6 L1175.7 1058.8 L1197.1 1102.5 L1217.5 1058.8 L1221 1055.6 L1224.4 1053.4 L1227.9 1051.8 L1231.4 1050.8 L1234.8 1050.5 L1238.3 1050.8 L1241.8 1051.8 L1245.3 1053.4 L1248.7 1055.6 L1252.2 1058.8 L1272.6 1102.5 L1293 1058.8 L1296.5 1055.6 L1299.9 1053.4 L1303.4 1051.8 L1306.9 1050.8 L1310.3 1050.5 L1313.8 1050.8 L1317.3 1051.8 L1320.8 1053.4 L1324.2 1055.6 L1327.7 1058.8 L1348.1 1102.5 L1379.4 1102.5 L1358.8 1058.8 L1355.3 1055.6 L1351.8 1053.4 L1348.3 1051.8 L1344.8 1050.8 L1341.3 1050.5 L1337.8 1050.8 L1334.3 1051.8 L1330.8 1053.4 L1327.3 1055.6 L1323.8 1058.8 L1303.2 1102.5 L1282.6 1058.8 L1279.1 1055.6 L1275.6 1053.4 L1272.1 1051.8 L1268.6 1050.8 L1265.1 1050.5 L1261.6 1050.8 L1258.1 1051.8 L1254.6 1053.4 L1251.1 1055.6 L1247.6 1058.8 L1227 1102.5 L1206.6 1058.8 L1203.1 1055.6 L1199.7 1053.4 L1196.2 1051.8 L1192.7 1050.8 L1189.2 1050.5 L1185.8 1050.8 L1182.3 1051.8 L1178.8 1053.4 L1175.4 1055.6 L1171.9 1058.8 L1151.5 1102.5 L1130.5 1058.8 L1126.9 1055.6 L1123.4 1053.4 L1119.8 1051.8 L1116.2 1050.8 L1112.7 1050.5 L1109.1 1050.8 L1105.5 1051.8 L1101.9 1053.4 L1098.4 1055.6 L1094.8 1058.8 L1073.8 1102.5 L1052.3 1058.8 L1048.6 1055.6 L1044.9 1053.4 L1041.2 1051.8 L1037.6 1050.8 L1033.9 1050.5 L1030.2 1050.8 L1026.6 1051.8 L1022.9 1053.4 L1019.2 1055.6 L1015.5 1058.8 L994 1102.5 L972.1 1058.8 L968.4 1055.6 L964.7 1053.4 L961 1051.8 L957.2 1050.8 L953.5 1050.5 L949.8 1050.8 L946 1051.8 L942.3 1053.4 L938.6 1055.6 L934.9 1058.8 L913 1102.5 L890.7 1058.8 L886.9 1055.6 L883.1 1053.4 L879.3 1051.8 L875.5 1050.8 L871.7 1050.5 L867.9 1050.8 L864.1 1051.8 L860.3 1053.4 L856.5 1055.6 L852.7 1058.8 L830.4 1102.5 L807.9 1058.8 L804 1055.6 L800.2 1053.4 L796.3 1051.8 L792.5 1050.8 L788.6 1050.5 L784.8 1050.8 L781 1051.8 L777.1 1053.4 L773.3 1055.6 L769.4 1058.8 L746.9 1102.5 L723.8 1058.8 L719.9 1055.6 L715.9 1053.4 L712 1051.8 L708 1050.8 L704.1 1050.5 L700.2 1050.8 L696.2 1051.8 L692.3 1053.4 L688.3 1055.6 L684.4 1058.8 L661.3 1102.5 L637.7 1058.8 L633.6 1055.6 L629.6 1053.4 L625.6 1051.8 L621.6 1050.8 L617.5 1050.5 L613.5 1050.8 L609.5 1051.8 L605.5 1053.4 L601.4 1055.6 L597.4 1058.8 L573.8 1102.5 L550.2 1058.8 L546.1 1055.6 L542.1 1053.4 L538.1 1051.8 L534.1 1050.8 L530 1050.5 L526 1050.8 L522 1051.8 L518 1053.4 L513.9 1055.6 L509.9 1058.8 L486.3 1102.5 L462.7 1058.8 L458.6 1055.6 L454.6 1053.4 L450.6 1051.8 L446.6 1050.8 L442.5 1050.5 L438.5 1050.8 L434.5 1051.8 L430.5 1053.4 L426.4 1055.6 L422.4 1058.8 L398.8 1102.5 Z" fill="url(#dnafade)" fill-rule="nonzero"/>
<path d="M449.9 1102.5 L473.8 1058.8 L477.9 1055.6 L481.9 1053.4 L486 1051.8 L490.1 1050.8 L494.1 1050.5 L498.2 1050.8 L502.3 1051.8 L506.4 1053.4 L510.4 1055.6 L514.5 1058.8 L538.4 1102.5 L562.3 1058.8 L566.4 1055.6 L570.4 1053.4 L574.5 1051.8 L578.6 1050.8 L582.6 1050.5 L586.7 1050.8 L590.8 1051.8 L594.9 1053.4 L598.9 1055.6 L603 1058.8 L626.9 1102.5 L650 1058.8 L653.9 1055.6 L657.9 1053.4 L661.8 1051.8 L665.7 1050.8 L669.6 1050.5 L673.6 1050.8 L677.5 1051.8 L681.4 1053.4 L685.4 1055.6 L689.3 1058.8 L712.4 1102.5 L735.2 1058.8 L739.1 1055.6 L743 1053.4 L746.9 1051.8 L750.8 1050.8 L754.7 1050.5 L758.6 1050.8 L762.5 1051.8 L766.4 1053.4 L770.3 1055.6 L774.2 1058.8 L797 1102.5 L819.6 1058.8 L823.4 1055.6 L827.3 1053.4 L831.1 1051.8 L835 1050.8 L838.8 1050.5 L842.6 1050.8 L846.5 1051.8 L850.3 1053.4 L854.2 1055.6 L858 1058.8 L880.6 1102.5 L902.6 1058.8 L906.4 1055.6 L910.1 1053.4 L913.9 1051.8 L917.6 1050.8 L921.4 1050.5 L925.2 1050.8 L928.9 1051.8 L932.7 1053.4 L936.4 1055.6 L940.2 1058.8 L962.2 1102.5 L983.4 1058.8 L987.1 1055.6 L990.7 1053.4 L994.3 1051.8 L997.9 1050.8 L1001.6 1050.5 L1005.2 1050.8 L1008.8 1051.8 L1012.4 1053.4 L1016 1055.6 L1019.7 1058.8 L1040.9 1102.5 L1061.7 1058.8 L1065.2 1055.6 L1068.8 1053.4 L1072.3 1051.8 L1075.9 1050.8 L1079.4 1050.5 L1082.9 1050.8 L1086.5 1051.8 L1090 1053.4 L1093.6 1055.6 L1097.1 1058.8 L1117.9 1102.5 L1139.3 1058.8 L1142.9 1055.6 L1146.6 1053.4 L1150.2 1051.8 L1153.9 1050.8 L1157.5 1050.5 L1161.1 1050.8 L1164.8 1051.8 L1168.4 1053.4 L1172.1 1055.6 L1175.7 1058.8 L1197.1 1102.5 L1217.5 1058.8 L1221 1055.6 L1224.4 1053.4 L1227.9 1051.8 L1231.4 1050.8 L1234.8 1050.5 L1238.3 1050.8 L1241.8 1051.8 L1245.3 1053.4 L1248.7 1055.6 L1252.2 1058.8 L1272.6 1102.5 L1293 1058.8 L1296.5 1055.6 L1299.9 1053.4 L1303.4 1051.8 L1306.9 1050.8 L1310.3 1050.5 L1313.8 1050.8 L1317.3 1051.8 L1320.8 1053.4 L1324.2 1055.6 L1327.7 1058.8 L1348.1 1102.5" fill="none" stroke="#d98f38" stroke-width="2.2" stroke-linejoin="round"/>
<path d="M398.8 1102.5 L422.4 1058.8 L426.4 1055.6 L430.5 1053.4 L434.5 1051.8 L438.5 1050.8 L442.5 1050.5 L446.6 1050.8 L450.6 1051.8 L454.6 1053.4 L458.6 1055.6 L462.7 1058.8 L486.3 1102.5 L509.9 1058.8 L513.9 1055.6 L518 1053.4 L522 1051.8 L526 1050.8 L530 1050.5 L534.1 1050.8 L538.1 1051.8 L542.1 1053.4 L546.1 1055.6 L550.2 1058.8 L573.8 1102.5 L597.4 1058.8 L601.4 1055.6 L605.5 1053.4 L609.5 1051.8 L613.5 1050.8 L617.5 1050.5 L621.6 1050.8 L625.6 1051.8 L629.6 1053.4 L633.6 1055.6 L637.7 1058.8 L661.3 1102.5 L684.4 1058.8 L688.3 1055.6 L692.3 1053.4 L696.2 1051.8 L700.2 1050.8 L704.1 1050.5 L708 1050.8 L712 1051.8 L715.9 1053.4 L719.9 1055.6 L723.8 1058.8 L746.9 1102.5 L769.4 1058.8 L773.3 1055.6 L777.1 1053.4 L781 1051.8 L784.8 1050.8 L788.6 1050.5 L792.5 1050.8 L796.3 1051.8 L800.2 1053.4 L804 1055.6 L807.9 1058.8 L830.4 1102.5 L852.7 1058.8 L856.5 1055.6 L860.3 1053.4 L864.1 1051.8 L867.9 1050.8 L871.7 1050.5 L875.5 1050.8 L879.3 1051.8 L883.1 1053.4 L886.9 1055.6 L890.7 1058.8 L913 1102.5 L934.9 1058.8 L938.6 1055.6 L942.3 1053.4 L946 1051.8 L949.8 1050.8 L953.5 1050.5 L957.2 1050.8 L961 1051.8 L964.7 1053.4 L968.4 1055.6 L972.1 1058.8 L994 1102.5 L1015.5 1058.8 L1019.2 1055.6 L1022.9 1053.4 L1026.6 1051.8 L1030.2 1050.8 L1033.9 1050.5 L1037.6 1050.8 L1041.2 1051.8 L1044.9 1053.4 L1048.6 1055.6 L1052.3 1058.8 L1073.8 1102.5 L1094.8 1058.8 L1098.4 1055.6 L1101.9 1053.4 L1105.5 1051.8 L1109.1 1050.8 L1112.7 1050.5 L1116.2 1050.8 L1119.8 1051.8 L1123.4 1053.4 L1126.9 1055.6 L1130.5 1058.8 L1151.5 1102.5 L1171.9 1058.8 L1175.4 1055.6 L1178.8 1053.4 L1182.3 1051.8 L1185.8 1050.8 L1189.2 1050.5 L1192.7 1050.8 L1196.2 1051.8 L1199.7 1053.4 L1203.1 1055.6 L1206.6 1058.8 L1227 1102.5 L1247.6 1058.8 L1251.1 1055.6 L1254.6 1053.4 L1258.1 1051.8 L1261.6 1050.8 L1265.1 1050.5 L1268.6 1050.8 L1272.1 1051.8 L1275.6 1053.4 L1279.1 1055.6 L1282.6 1058.8 L1303.2 1102.5 L1323.8 1058.8 L1327.3 1055.6 L1330.8 1053.4 L1334.3 1051.8 L1337.8 1050.8 L1341.3 1050.5 L1344.8 1050.8 L1348.3 1051.8 L1351.8 1053.4 L1355.3 1055.6 L1358.8 1058.8 L1379.4 1102.5" fill="none" stroke="#d98f38" stroke-width="2.2" stroke-linejoin="round"/>
</g>
<clipPath id="cdl2"><rect x="1497" y="1020.5" width="841" height="84.5"/></clipPath>
<g clip-path="url(#cdl2)" opacity="0.78">
<path d="M1421.8 1095 L1440.7 1055 L1443.9 1052.2 L1447.1 1051.4 L1450.3 1050.9 L1453.5 1050.6 L1456.7 1050.5 L1460 1050.6 L1463.2 1050.9 L1466.4 1051.4 L1469.6 1052.2 L1472.8 1055 L1491.7 1095 L1510.6 1055 L1513.8 1052.2 L1517 1051.4 L1520.2 1050.9 L1523.4 1050.6 L1526.6 1050.5 L1529.9 1050.6 L1533.1 1050.9 L1536.3 1051.4 L1539.5 1052.2 L1542.7 1055 L1561.6 1095 L1580.5 1055 L1583.7 1052.2 L1586.9 1051.4 L1590.1 1050.9 L1593.3 1050.6 L1596.5 1050.5 L1599.8 1050.6 L1603 1050.9 L1606.2 1051.4 L1609.4 1052.2 L1612.6 1055 L1631.5 1095 L1649.5 1055 L1652.6 1052.2 L1655.7 1051.4 L1658.8 1050.9 L1661.8 1050.6 L1664.9 1050.5 L1668 1050.6 L1671 1050.9 L1674.1 1051.4 L1677.2 1052.2 L1680.3 1055 L1698.3 1095 L1716.6 1055 L1719.8 1052.2 L1722.9 1051.4 L1726 1050.9 L1729.1 1050.6 L1732.2 1050.5 L1735.4 1050.6 L1738.5 1050.9 L1741.6 1051.4 L1744.7 1052.2 L1747.9 1055 L1766.2 1095 L1784 1055 L1787 1052.2 L1790.1 1051.4 L1793.1 1050.9 L1796.1 1050.6 L1799.2 1050.5 L1802.2 1050.6 L1805.2 1050.9 L1808.2 1051.4 L1811.3 1052.2 L1814.3 1055 L1832.1 1095 L1849.4 1055 L1852.3 1052.2 L1855.2 1051.4 L1858.2 1050.9 L1861.1 1050.6 L1864 1050.5 L1867 1050.6 L1869.9 1050.9 L1872.9 1051.4 L1875.8 1052.2 L1878.7 1055 L1896 1095 L1913.3 1055 L1916.3 1052.2 L1919.2 1051.4 L1922.2 1050.9 L1925.1 1050.6 L1928.1 1050.5 L1931.1 1050.6 L1934 1050.9 L1937 1051.4 L1939.9 1052.2 L1942.9 1055 L1960.2 1095 L1977.2 1055 L1980 1052.2 L1982.9 1051.4 L1985.8 1050.9 L1988.7 1050.6 L1991.6 1050.5 L1994.5 1050.6 L1997.4 1050.9 L2000.3 1051.4 L2003.2 1052.2 L2006 1055 L2023 1095 L2039.6 1055 L2042.4 1052.2 L2045.2 1051.4 L2048.1 1050.9 L2050.9 1050.6 L2053.7 1050.5 L2056.5 1050.6 L2059.3 1050.9 L2062.2 1051.4 L2065 1052.2 L2067.8 1055 L2084.4 1095 L2100.7 1055 L2103.5 1052.2 L2106.3 1051.4 L2109 1050.9 L2111.8 1050.6 L2114.6 1050.5 L2117.4 1050.6 L2120.2 1050.9 L2122.9 1051.4 L2125.7 1052.2 L2128.5 1055 L2144.8 1095 L2160.9 1055 L2163.7 1052.2 L2166.4 1051.4 L2169.2 1050.9 L2171.9 1050.6 L2174.7 1050.5 L2177.4 1050.6 L2180.1 1050.9 L2182.9 1051.4 L2185.6 1052.2 L2188.4 1055 L2204.5 1095 L2220.2 1055 L2222.9 1052.2 L2225.5 1051.4 L2228.2 1050.9 L2230.9 1050.6 L2233.6 1050.5 L2236.2 1050.6 L2238.9 1050.9 L2241.6 1051.4 L2244.2 1052.2 L2246.9 1055 L2262.6 1095 L2278.5 1055 L2281.2 1052.2 L2283.9 1051.4 L2286.6 1050.9 L2289.3 1050.6 L2292.1 1050.5 L2294.8 1050.6 L2297.5 1050.9 L2300.2 1051.4 L2302.9 1052.2 L2305.6 1055 L2321.5 1095 L2337.4 1055 L2340.1 1052.2 L2342.8 1051.4 L2345.5 1050.9 L2348.2 1050.6 L2350.9 1050.5 L2353.7 1050.6 L2356.4 1050.9 L2359.1 1051.4 L2361.8 1052.2 L2364.5 1055 L2380.4 1095 L2402 1095 L2386.3 1055 L2383.7 1052.2 L2381 1051.4 L2378.3 1050.9 L2375.7 1050.6 L2373 1050.5 L2370.3 1050.6 L2367.7 1050.9 L2365 1051.4 L2362.3 1052.2 L2359.7 1055 L2344 1095 L2328.3 1055 L2325.7 1052.2 L2323 1051.4 L2320.3 1050.9 L2317.7 1050.6 L2315 1050.5 L2312.3 1050.6 L2309.7 1050.9 L2307 1051.4 L2304.3 1052.2 L2301.7 1055 L2286 1095 L2270.3 1055 L2267.6 1052.2 L2265 1051.4 L2262.3 1050.9 L2259.6 1050.6 L2256.9 1050.5 L2254.3 1050.6 L2251.6 1050.9 L2248.9 1051.4 L2246.3 1052.2 L2243.6 1055 L2227.9 1095 L2212 1055 L2209.3 1052.2 L2206.6 1051.4 L2203.9 1050.9 L2201.2 1050.6 L2198.4 1050.5 L2195.7 1050.6 L2193 1050.9 L2190.3 1051.4 L2187.6 1052.2 L2184.9 1055 L2169 1095 L2152.7 1055 L2149.9 1052.2 L2147.1 1051.4 L2144.3 1050.9 L2141.5 1050.6 L2138.8 1050.5 L2136 1050.6 L2133.2 1050.9 L2130.4 1051.4 L2127.6 1052.2 L2124.8 1055 L2108.5 1095 L2092.2 1055 L2089.4 1052.2 L2086.6 1051.4 L2083.8 1050.9 L2081 1050.6 L2078.2 1050.5 L2075.5 1050.6 L2072.7 1050.9 L2069.9 1051.4 L2067.1 1052.2 L2064.3 1055 L2048 1095 L2031.3 1055 L2028.4 1052.2 L2025.6 1051.4 L2022.7 1050.9 L2019.9 1050.6 L2017 1050.5 L2014.1 1050.6 L2011.3 1050.9 L2008.4 1051.4 L2005.6 1052.2 L2002.7 1055 L1986 1095 L1968.9 1055 L1966 1052.2 L1963 1051.4 L1960.1 1050.9 L1957.2 1050.6 L1954.3 1050.5 L1951.4 1050.6 L1948.5 1050.9 L1945.6 1051.4 L1942.6 1052.2 L1939.7 1055 L1922.6 1095 L1905.1 1055 L1902.1 1052.2 L1899.1 1051.4 L1896.1 1050.9 L1893.1 1050.6 L1890.2 1050.5 L1887.2 1050.6 L1884.2 1050.9 L1881.2 1051.4 L1878.2 1052.2 L1875.2 1055 L1857.7 1095 L1840.2 1055 L1837.2 1052.2 L1834.2 1051.4 L1831.2 1050.9 L1828.2 1050.6 L1825.2 1050.5 L1822.2 1050.6 L1819.2 1050.9 L1816.2 1051.4 L1813.2 1052.2 L1810.2 1055 L1792.7 1095 L1774.9 1055 L1771.9 1052.2 L1768.9 1051.4 L1765.9 1050.9 L1762.8 1050.6 L1759.8 1050.5 L1756.8 1050.6 L1753.7 1050.9 L1750.7 1051.4 L1747.7 1052.2 L1744.7 1055 L1726.9 1095 L1708.3 1055 L1705.1 1052.2 L1702 1051.4 L1698.8 1050.9 L1695.6 1050.6 L1692.5 1050.5 L1689.3 1050.6 L1686.1 1050.9 L1682.9 1051.4 L1679.8 1052.2 L1676.6 1055 L1658 1095 L1639.7 1055 L1636.5 1052.2 L1633.4 1051.4 L1630.3 1050.9 L1627.2 1050.6 L1624 1050.5 L1620.9 1050.6 L1617.8 1050.9 L1614.7 1051.4 L1611.6 1052.2 L1608.4 1055 L1590.1 1095 L1571.8 1055 L1568.6 1052.2 L1565.5 1051.4 L1562.4 1050.9 L1559.3 1050.6 L1556.1 1050.5 L1553 1050.6 L1549.9 1050.9 L1546.8 1051.4 L1543.7 1052.2 L1540.5 1055 L1522.2 1095 L1503.9 1055 L1500.7 1052.2 L1497.6 1051.4 L1494.5 1050.9 L1491.4 1050.6 L1488.2 1050.5 L1485.1 1050.6 L1482 1050.9 L1478.9 1051.4 L1475.8 1052.2 L1472.6 1055 L1454.3 1095 Z" fill="url(#dnastripe)" fill-rule="nonzero"/>
<path d="M1421.8 1095 L1440.7 1055 L1443.9 1052.2 L1447.1 1051.4 L1450.3 1050.9 L1453.5 1050.6 L1456.7 1050.5 L1460 1050.6 L1463.2 1050.9 L1466.4 1051.4 L1469.6 1052.2 L1472.8 1055 L1491.7 1095 L1510.6 1055 L1513.8 1052.2 L1517 1051.4 L1520.2 1050.9 L1523.4 1050.6 L1526.6 1050.5 L1529.9 1050.6 L1533.1 1050.9 L1536.3 1051.4 L1539.5 1052.2 L1542.7 1055 L1561.6 1095 L1580.5 1055 L1583.7 1052.2 L1586.9 1051.4 L1590.1 1050.9 L1593.3 1050.6 L1596.5 1050.5 L1599.8 1050.6 L1603 1050.9 L1606.2 1051.4 L1609.4 1052.2 L1612.6 1055 L1631.5 1095 L1649.5 1055 L1652.6 1052.2 L1655.7 1051.4 L1658.8 1050.9 L1661.8 1050.6 L1664.9 1050.5 L1668 1050.6 L1671 1050.9 L1674.1 1051.4 L1677.2 1052.2 L1680.3 1055 L1698.3 1095 L1716.6 1055 L1719.8 1052.2 L1722.9 1051.4 L1726 1050.9 L1729.1 1050.6 L1732.2 1050.5 L1735.4 1050.6 L1738.5 1050.9 L1741.6 1051.4 L1744.7 1052.2 L1747.9 1055 L1766.2 1095 L1784 1055 L1787 1052.2 L1790.1 1051.4 L1793.1 1050.9 L1796.1 1050.6 L1799.2 1050.5 L1802.2 1050.6 L1805.2 1050.9 L1808.2 1051.4 L1811.3 1052.2 L1814.3 1055 L1832.1 1095 L1849.4 1055 L1852.3 1052.2 L1855.2 1051.4 L1858.2 1050.9 L1861.1 1050.6 L1864 1050.5 L1867 1050.6 L1869.9 1050.9 L1872.9 1051.4 L1875.8 1052.2 L1878.7 1055 L1896 1095 L1913.3 1055 L1916.3 1052.2 L1919.2 1051.4 L1922.2 1050.9 L1925.1 1050.6 L1928.1 1050.5 L1931.1 1050.6 L1934 1050.9 L1937 1051.4 L1939.9 1052.2 L1942.9 1055 L1960.2 1095 L1977.2 1055 L1980 1052.2 L1982.9 1051.4 L1985.8 1050.9 L1988.7 1050.6 L1991.6 1050.5 L1994.5 1050.6 L1997.4 1050.9 L2000.3 1051.4 L2003.2 1052.2 L2006 1055 L2023 1095 L2039.6 1055 L2042.4 1052.2 L2045.2 1051.4 L2048.1 1050.9 L2050.9 1050.6 L2053.7 1050.5 L2056.5 1050.6 L2059.3 1050.9 L2062.2 1051.4 L2065 1052.2 L2067.8 1055 L2084.4 1095 L2100.7 1055 L2103.5 1052.2 L2106.3 1051.4 L2109 1050.9 L2111.8 1050.6 L2114.6 1050.5 L2117.4 1050.6 L2120.2 1050.9 L2122.9 1051.4 L2125.7 1052.2 L2128.5 1055 L2144.8 1095 L2160.9 1055 L2163.7 1052.2 L2166.4 1051.4 L2169.2 1050.9 L2171.9 1050.6 L2174.7 1050.5 L2177.4 1050.6 L2180.1 1050.9 L2182.9 1051.4 L2185.6 1052.2 L2188.4 1055 L2204.5 1095 L2220.2 1055 L2222.9 1052.2 L2225.5 1051.4 L2228.2 1050.9 L2230.9 1050.6 L2233.6 1050.5 L2236.2 1050.6 L2238.9 1050.9 L2241.6 1051.4 L2244.2 1052.2 L2246.9 1055 L2262.6 1095 L2278.5 1055 L2281.2 1052.2 L2283.9 1051.4 L2286.6 1050.9 L2289.3 1050.6 L2292.1 1050.5 L2294.8 1050.6 L2297.5 1050.9 L2300.2 1051.4 L2302.9 1052.2 L2305.6 1055 L2321.5 1095 L2337.4 1055 L2340.1 1052.2 L2342.8 1051.4 L2345.5 1050.9 L2348.2 1050.6 L2350.9 1050.5 L2353.7 1050.6 L2356.4 1050.9 L2359.1 1051.4 L2361.8 1052.2 L2364.5 1055 L2380.4 1095 L2402 1095 L2386.3 1055 L2383.7 1052.2 L2381 1051.4 L2378.3 1050.9 L2375.7 1050.6 L2373 1050.5 L2370.3 1050.6 L2367.7 1050.9 L2365 1051.4 L2362.3 1052.2 L2359.7 1055 L2344 1095 L2328.3 1055 L2325.7 1052.2 L2323 1051.4 L2320.3 1050.9 L2317.7 1050.6 L2315 1050.5 L2312.3 1050.6 L2309.7 1050.9 L2307 1051.4 L2304.3 1052.2 L2301.7 1055 L2286 1095 L2270.3 1055 L2267.6 1052.2 L2265 1051.4 L2262.3 1050.9 L2259.6 1050.6 L2256.9 1050.5 L2254.3 1050.6 L2251.6 1050.9 L2248.9 1051.4 L2246.3 1052.2 L2243.6 1055 L2227.9 1095 L2212 1055 L2209.3 1052.2 L2206.6 1051.4 L2203.9 1050.9 L2201.2 1050.6 L2198.4 1050.5 L2195.7 1050.6 L2193 1050.9 L2190.3 1051.4 L2187.6 1052.2 L2184.9 1055 L2169 1095 L2152.7 1055 L2149.9 1052.2 L2147.1 1051.4 L2144.3 1050.9 L2141.5 1050.6 L2138.8 1050.5 L2136 1050.6 L2133.2 1050.9 L2130.4 1051.4 L2127.6 1052.2 L2124.8 1055 L2108.5 1095 L2092.2 1055 L2089.4 1052.2 L2086.6 1051.4 L2083.8 1050.9 L2081 1050.6 L2078.2 1050.5 L2075.5 1050.6 L2072.7 1050.9 L2069.9 1051.4 L2067.1 1052.2 L2064.3 1055 L2048 1095 L2031.3 1055 L2028.4 1052.2 L2025.6 1051.4 L2022.7 1050.9 L2019.9 1050.6 L2017 1050.5 L2014.1 1050.6 L2011.3 1050.9 L2008.4 1051.4 L2005.6 1052.2 L2002.7 1055 L1986 1095 L1968.9 1055 L1966 1052.2 L1963 1051.4 L1960.1 1050.9 L1957.2 1050.6 L1954.3 1050.5 L1951.4 1050.6 L1948.5 1050.9 L1945.6 1051.4 L1942.6 1052.2 L1939.7 1055 L1922.6 1095 L1905.1 1055 L1902.1 1052.2 L1899.1 1051.4 L1896.1 1050.9 L1893.1 1050.6 L1890.2 1050.5 L1887.2 1050.6 L1884.2 1050.9 L1881.2 1051.4 L1878.2 1052.2 L1875.2 1055 L1857.7 1095 L1840.2 1055 L1837.2 1052.2 L1834.2 1051.4 L1831.2 1050.9 L1828.2 1050.6 L1825.2 1050.5 L1822.2 1050.6 L1819.2 1050.9 L1816.2 1051.4 L1813.2 1052.2 L1810.2 1055 L1792.7 1095 L1774.9 1055 L1771.9 1052.2 L1768.9 1051.4 L1765.9 1050.9 L1762.8 1050.6 L1759.8 1050.5 L1756.8 1050.6 L1753.7 1050.9 L1750.7 1051.4 L1747.7 1052.2 L1744.7 1055 L1726.9 1095 L1708.3 1055 L1705.1 1052.2 L1702 1051.4 L1698.8 1050.9 L1695.6 1050.6 L1692.5 1050.5 L1689.3 1050.6 L1686.1 1050.9 L1682.9 1051.4 L1679.8 1052.2 L1676.6 1055 L1658 1095 L1639.7 1055 L1636.5 1052.2 L1633.4 1051.4 L1630.3 1050.9 L1627.2 1050.6 L1624 1050.5 L1620.9 1050.6 L1617.8 1050.9 L1614.7 1051.4 L1611.6 1052.2 L1608.4 1055 L1590.1 1095 L1571.8 1055 L1568.6 1052.2 L1565.5 1051.4 L1562.4 1050.9 L1559.3 1050.6 L1556.1 1050.5 L1553 1050.6 L1549.9 1050.9 L1546.8 1051.4 L1543.7 1052.2 L1540.5 1055 L1522.2 1095 L1503.9 1055 L1500.7 1052.2 L1497.6 1051.4 L1494.5 1050.9 L1491.4 1050.6 L1488.2 1050.5 L1485.1 1050.6 L1482 1050.9 L1478.9 1051.4 L1475.8 1052.2 L1472.6 1055 L1454.3 1095 Z" fill="url(#dnafade)" fill-rule="nonzero"/>
<path d="M1421.8 1095 L1440.7 1055 L1443.9 1052.2 L1447.1 1051.4 L1450.3 1050.9 L1453.5 1050.6 L1456.7 1050.5 L1460 1050.6 L1463.2 1050.9 L1466.4 1051.4 L1469.6 1052.2 L1472.8 1055 L1491.7 1095 L1510.6 1055 L1513.8 1052.2 L1517 1051.4 L1520.2 1050.9 L1523.4 1050.6 L1526.6 1050.5 L1529.9 1050.6 L1533.1 1050.9 L1536.3 1051.4 L1539.5 1052.2 L1542.7 1055 L1561.6 1095 L1580.5 1055 L1583.7 1052.2 L1586.9 1051.4 L1590.1 1050.9 L1593.3 1050.6 L1596.5 1050.5 L1599.8 1050.6 L1603 1050.9 L1606.2 1051.4 L1609.4 1052.2 L1612.6 1055 L1631.5 1095 L1649.5 1055 L1652.6 1052.2 L1655.7 1051.4 L1658.8 1050.9 L1661.8 1050.6 L1664.9 1050.5 L1668 1050.6 L1671 1050.9 L1674.1 1051.4 L1677.2 1052.2 L1680.3 1055 L1698.3 1095 L1716.6 1055 L1719.8 1052.2 L1722.9 1051.4 L1726 1050.9 L1729.1 1050.6 L1732.2 1050.5 L1735.4 1050.6 L1738.5 1050.9 L1741.6 1051.4 L1744.7 1052.2 L1747.9 1055 L1766.2 1095 L1784 1055 L1787 1052.2 L1790.1 1051.4 L1793.1 1050.9 L1796.1 1050.6 L1799.2 1050.5 L1802.2 1050.6 L1805.2 1050.9 L1808.2 1051.4 L1811.3 1052.2 L1814.3 1055 L1832.1 1095 L1849.4 1055 L1852.3 1052.2 L1855.2 1051.4 L1858.2 1050.9 L1861.1 1050.6 L1864 1050.5 L1867 1050.6 L1869.9 1050.9 L1872.9 1051.4 L1875.8 1052.2 L1878.7 1055 L1896 1095 L1913.3 1055 L1916.3 1052.2 L1919.2 1051.4 L1922.2 1050.9 L1925.1 1050.6 L1928.1 1050.5 L1931.1 1050.6 L1934 1050.9 L1937 1051.4 L1939.9 1052.2 L1942.9 1055 L1960.2 1095 L1977.2 1055 L1980 1052.2 L1982.9 1051.4 L1985.8 1050.9 L1988.7 1050.6 L1991.6 1050.5 L1994.5 1050.6 L1997.4 1050.9 L2000.3 1051.4 L2003.2 1052.2 L2006 1055 L2023 1095 L2039.6 1055 L2042.4 1052.2 L2045.2 1051.4 L2048.1 1050.9 L2050.9 1050.6 L2053.7 1050.5 L2056.5 1050.6 L2059.3 1050.9 L2062.2 1051.4 L2065 1052.2 L2067.8 1055 L2084.4 1095 L2100.7 1055 L2103.5 1052.2 L2106.3 1051.4 L2109 1050.9 L2111.8 1050.6 L2114.6 1050.5 L2117.4 1050.6 L2120.2 1050.9 L2122.9 1051.4 L2125.7 1052.2 L2128.5 1055 L2144.8 1095 L2160.9 1055 L2163.7 1052.2 L2166.4 1051.4 L2169.2 1050.9 L2171.9 1050.6 L2174.7 1050.5 L2177.4 1050.6 L2180.1 1050.9 L2182.9 1051.4 L2185.6 1052.2 L2188.4 1055 L2204.5 1095 L2220.2 1055 L2222.9 1052.2 L2225.5 1051.4 L2228.2 1050.9 L2230.9 1050.6 L2233.6 1050.5 L2236.2 1050.6 L2238.9 1050.9 L2241.6 1051.4 L2244.2 1052.2 L2246.9 1055 L2262.6 1095 L2278.5 1055 L2281.2 1052.2 L2283.9 1051.4 L2286.6 1050.9 L2289.3 1050.6 L2292.1 1050.5 L2294.8 1050.6 L2297.5 1050.9 L2300.2 1051.4 L2302.9 1052.2 L2305.6 1055 L2321.5 1095 L2337.4 1055 L2340.1 1052.2 L2342.8 1051.4 L2345.5 1050.9 L2348.2 1050.6 L2350.9 1050.5 L2353.7 1050.6 L2356.4 1050.9 L2359.1 1051.4 L2361.8 1052.2 L2364.5 1055 L2380.4 1095" fill="none" stroke="#dc9a4c" stroke-width="2.0" stroke-linejoin="round"/>
<path d="M1454.3 1095 L1472.6 1055 L1475.8 1052.2 L1478.9 1051.4 L1482 1050.9 L1485.1 1050.6 L1488.2 1050.5 L1491.4 1050.6 L1494.5 1050.9 L1497.6 1051.4 L1500.7 1052.2 L1503.9 1055 L1522.2 1095 L1540.5 1055 L1543.7 1052.2 L1546.8 1051.4 L1549.9 1050.9 L1553 1050.6 L1556.1 1050.5 L1559.3 1050.6 L1562.4 1050.9 L1565.5 1051.4 L1568.6 1052.2 L1571.8 1055 L1590.1 1095 L1608.4 1055 L1611.6 1052.2 L1614.7 1051.4 L1617.8 1050.9 L1620.9 1050.6 L1624 1050.5 L1627.2 1050.6 L1630.3 1050.9 L1633.4 1051.4 L1636.5 1052.2 L1639.7 1055 L1658 1095 L1676.6 1055 L1679.8 1052.2 L1682.9 1051.4 L1686.1 1050.9 L1689.3 1050.6 L1692.5 1050.5 L1695.6 1050.6 L1698.8 1050.9 L1702 1051.4 L1705.1 1052.2 L1708.3 1055 L1726.9 1095 L1744.7 1055 L1747.7 1052.2 L1750.7 1051.4 L1753.7 1050.9 L1756.8 1050.6 L1759.8 1050.5 L1762.8 1050.6 L1765.9 1050.9 L1768.9 1051.4 L1771.9 1052.2 L1774.9 1055 L1792.7 1095 L1810.2 1055 L1813.2 1052.2 L1816.2 1051.4 L1819.2 1050.9 L1822.2 1050.6 L1825.2 1050.5 L1828.2 1050.6 L1831.2 1050.9 L1834.2 1051.4 L1837.2 1052.2 L1840.2 1055 L1857.7 1095 L1875.2 1055 L1878.2 1052.2 L1881.2 1051.4 L1884.2 1050.9 L1887.2 1050.6 L1890.2 1050.5 L1893.1 1050.6 L1896.1 1050.9 L1899.1 1051.4 L1902.1 1052.2 L1905.1 1055 L1922.6 1095 L1939.7 1055 L1942.6 1052.2 L1945.6 1051.4 L1948.5 1050.9 L1951.4 1050.6 L1954.3 1050.5 L1957.2 1050.6 L1960.1 1050.9 L1963 1051.4 L1966 1052.2 L1968.9 1055 L1986 1095 L2002.7 1055 L2005.6 1052.2 L2008.4 1051.4 L2011.3 1050.9 L2014.1 1050.6 L2017 1050.5 L2019.9 1050.6 L2022.7 1050.9 L2025.6 1051.4 L2028.4 1052.2 L2031.3 1055 L2048 1095 L2064.3 1055 L2067.1 1052.2 L2069.9 1051.4 L2072.7 1050.9 L2075.5 1050.6 L2078.2 1050.5 L2081 1050.6 L2083.8 1050.9 L2086.6 1051.4 L2089.4 1052.2 L2092.2 1055 L2108.5 1095 L2124.8 1055 L2127.6 1052.2 L2130.4 1051.4 L2133.2 1050.9 L2136 1050.6 L2138.8 1050.5 L2141.5 1050.6 L2144.3 1050.9 L2147.1 1051.4 L2149.9 1052.2 L2152.7 1055 L2169 1095 L2184.9 1055 L2187.6 1052.2 L2190.3 1051.4 L2193 1050.9 L2195.7 1050.6 L2198.4 1050.5 L2201.2 1050.6 L2203.9 1050.9 L2206.6 1051.4 L2209.3 1052.2 L2212 1055 L2227.9 1095 L2243.6 1055 L2246.3 1052.2 L2248.9 1051.4 L2251.6 1050.9 L2254.3 1050.6 L2256.9 1050.5 L2259.6 1050.6 L2262.3 1050.9 L2265 1051.4 L2267.6 1052.2 L2270.3 1055 L2286 1095 L2301.7 1055 L2304.3 1052.2 L2307 1051.4 L2309.7 1050.9 L2312.3 1050.6 L2315 1050.5 L2317.7 1050.6 L2320.3 1050.9 L2323 1051.4 L2325.7 1052.2 L2328.3 1055 L2344 1095 L2359.7 1055 L2362.3 1052.2 L2365 1051.4 L2367.7 1050.9 L2370.3 1050.6 L2373 1050.5 L2375.7 1050.6 L2378.3 1050.9 L2381 1051.4 L2383.7 1052.2 L2386.3 1055 L2402 1095" fill="none" stroke="#dc9a4c" stroke-width="2.0" stroke-linejoin="round"/>
</g>
<path d="M1303.5 1040 L1303.5 938.5 L1490 938.5" fill="none" stroke="#222" stroke-width="5.5"/>
<path d="M1514 938.5 L1483 922 L1483 955Z" fill="#222"/>
<path transform="translate(1292.5,1013)" d="M0 52 C0 18 60 0 150 0 C215 0 262 10 266 28 C268 36 255 40 235 42 L204 50 C225 54 250 62 254 74 C256 92 215 102 150 102 C60 102 0 86 0 52Z" fill="#8db1cd"/>
<g fill="none" stroke-linejoin="miter" stroke-linecap="butt"><path d="M881.7 878.8 L874.9 882 L869.7 884.8 L866.5 892.7 L863.5 900.1 L862.8 908.6 L859.2 914.3 L857.2 923 L857 928 L860.9 937.9 L862.9 944.1" stroke="#8fe89a" stroke-width="1.6"/><path d="M887.7 1049.5 L894.8 1045.2 L902.6 1038.8 L905.5 1035.9 L911.1 1033.6 L917.1 1029.4 L921.5 1026 L925.1 1021.7 L929.9 1019.5 L933.2 1012 L936.9 1004.4" stroke="#8fe89a" stroke-width="1.4"/><path d="M998.3 996.6 L1003.8 998.9 L1011.8 1001.1 L1016.4 1000.5 L1013 1006.1 L1011.9 1011.3 L1008 1017.2 L1000.7 1021.2 L996.3 1025.1 L986.9 1027.1 L992.2 1036.4 L999.4 1043.4 L1005.5 1040.8 L1011.9 1038.6 L1015.4 1036.4 L1022.3 1033.6 L1029.8 1037.2 L1036.2 1042.1" stroke="#8fe89a" stroke-width="1.4"/><path d="M1124.5 1109.6 L1124.4 1116.1 L1126.5 1122.7 L1129.9 1129.5 L1137.1 1126.8 L1142 1123.3" stroke="#8fe89a" stroke-width="1.5"/><path d="M1164.1 1114.9 L1184.6 1109.6 M1212.2 1104.3 L1225.4 1095.7" stroke="#8fe89a" stroke-width="1.8"/><path d="M1010.3 1164.9 L1014.3 1156.5 L1020.4 1155.4 L1027.6 1153.6 L1034 1153.8 L1040.6 1153.1 L1045.7 1150.1 L1052.9 1146.6 L1057.8 1143.2 L1065.2 1141.5 L1071.1 1136.6 L1081 1138.5 L1080.6 1145.6 L1082.2 1151.9 L1090.3 1160.2" stroke="#8fe89a" stroke-width="1.4"/><path d="M899.7 1032.7 L935.8 1039.9" stroke="#2a9b3a" stroke-width="6" stroke-opacity="0.6"/><path d="M898.8 1037.1 L905.1 1029.2 L907.8 1038.9 L914.1 1031 L916.9 1040.7 L923.1 1032.8 L925.9 1042.5 L932.1 1034.6 L934.9 1044.3" stroke="#2a9b3a" stroke-width="3.4"/><path d="M902.1 1023.1 L926.2 1032.7" stroke="#2a9b3a" stroke-width="5.2" stroke-opacity="0.6"/><path d="M900.6 1026.8 L907.6 1021 L908.6 1030 L915.6 1024.2 L916.7 1033.2 L923.6 1027.4 L924.7 1036.4" stroke="#2a9b3a" stroke-width="3.4"/><path d="M1027.1 994.2 L1041.5 1003.8" stroke="#2a9b3a" stroke-width="4.5" stroke-opacity="0.6"/><path d="M1025.2 997.1 L1032.7 993.7 L1032.4 1002 L1039.9 998.5 L1039.6 1006.8" stroke="#2a9b3a" stroke-width="3.4"/><path d="M881.7 881.2 L945.4 999" stroke="#35d845" stroke-width="6.1" stroke-opacity="0.6"/><path d="M877.6 883.4 L887.8 882.9 L881.7 891 L891.9 890.5 L885.9 898.6 L896 898.1 L890 906.2 L900.1 905.7 L894.1 913.8 L904.2 913.3 L898.2 921.4 L908.3 920.9 L902.3 929 L912.4 928.5 L906.4 936.6 L916.6 936.1 L910.5 944.2 L920.7 943.7 L914.6 951.8 L924.8 951.3 L918.7 959.4 L928.9 958.9 L922.8 967 L933 966.5 L927 974.6 L937.1 974.1 L931.1 982.2 L941.2 981.7 L935.2 989.8 L945.3 989.3 L939.3 997.4 L949.4 996.9" stroke="#35d845" stroke-width="3.4"/><path d="M945.4 999 L998.3 1054.3" stroke="#35d845" stroke-width="6.1" stroke-opacity="0.6"/><path d="M948.7 995.9 L945 1005.3 L954.6 1002 L950.9 1011.4 L960.5 1008.1 L956.8 1017.6 L966.3 1014.3 L962.6 1023.7 L972.2 1020.4 L968.5 1029.9 L978.1 1026.6 L974.4 1036 L984 1032.7 L980.3 1042.1 L989.8 1038.9 L986.1 1048.3 L995.7 1045 L992 1054.4 L1001.6 1051.1" stroke="#35d845" stroke-width="3.4"/><path d="M860 946.2 L940.6 994.2" stroke="#35d845" stroke-width="6.1" stroke-opacity="0.6"/><path d="M857.7 950.1 L866.1 944.4 L865 954.5 L873.4 948.8 L872.3 958.8 L880.7 953.1 L879.7 963.2 L888 957.5 L887 967.6 L895.3 961.9 L894.3 972 L902.7 966.2 L901.6 976.3 L910 970.6 L908.9 980.7 L917.3 975 L916.3 985.1 L924.6 979.4 L923.6 989.4 L932 983.7 L930.9 993.8 L939.3 988.1 L938.2 998.2" stroke="#35d845" stroke-width="3.4"/><path d="M940.6 991.8 L1003.1 1023.1" stroke="#35d845" stroke-width="6.1" stroke-opacity="0.6"/><path d="M938.5 995.9 L946.5 989.7 L946.3 999.8 L954.4 993.6 L954.1 1003.8 L962.2 997.5 L962 1007.7 L970 1001.4 L969.8 1011.6 L977.8 1005.3 L977.6 1015.5 L985.6 1009.2 L985.4 1019.4 L993.4 1013.1 L993.2 1023.3 L1001.2 1017 L1001 1027.2" stroke="#35d845" stroke-width="3.4"/><path d="M1003.1 1023.1 L1065.6 1061.5" stroke="#35d845" stroke-width="6.1" stroke-opacity="0.6"/><path d="M1005.5 1019.2 L1004.3 1029.3 L1012.8 1023.7 L1011.7 1033.8 L1020.2 1028.2 L1019 1038.3 L1027.5 1032.7 L1026.4 1042.8 L1034.9 1037.3 L1033.8 1047.4 L1042.3 1041.8 L1041.1 1051.9 L1049.6 1046.3 L1048.5 1056.4 L1057 1050.8 L1055.8 1060.9 L1064.3 1055.4 L1063.2 1065.5" stroke="#35d845" stroke-width="3.4"/><path d="M983.8 999 L1046.3 1047.1" stroke="#35d845" stroke-width="6.1" stroke-opacity="0.6"/><path d="M981 1002.7 L990.1 998.1 L988 1008 L997.1 1003.4 L994.9 1013.4 L1004 1008.7 L1001.9 1018.7 L1011 1014.1 L1008.8 1024.1 L1017.9 1019.4 L1015.8 1029.4 L1024.8 1024.8 L1022.7 1034.7 L1031.8 1030.1 L1029.7 1040.1 L1038.7 1035.5 L1036.6 1045.4 L1045.7 1040.8 L1043.5 1050.8" stroke="#35d845" stroke-width="3.4"/><path d="M955 1015.9 L998.3 1056.7" stroke="#35d845" stroke-width="6.1" stroke-opacity="0.6"/><path d="M951.8 1019.2 L961.2 1015.4 L958 1025 L967.4 1021.3 L964.2 1030.9 L973.6 1027.1 L970.4 1036.7 L979.8 1033 L976.6 1042.6 L986 1038.8 L982.7 1048.4 L992.2 1044.6 L988.9 1054.2 L998.3 1050.5 L995.1 1060.1" stroke="#35d845" stroke-width="3.4"/><path d="M1058.4 1059.6 L1207.4 1056.2" stroke="#35d845" stroke-width="5.7" stroke-opacity="0.6"/><path d="M1058.5 1063.9 L1062.5 1055.2 L1067 1063.7 L1071 1055 L1075.5 1063.5 L1079.6 1054.8 L1084 1063.3 L1088.1 1054.6 L1092.5 1063.1 L1096.6 1054.5 L1101 1063 L1105.1 1054.3 L1109.6 1062.8 L1113.6 1054.1 L1118.1 1062.6 L1122.1 1053.9 L1126.6 1062.4 L1130.7 1053.7 L1135.1 1062.2 L1139.2 1053.5 L1143.6 1062 L1147.7 1053.3 L1152.1 1061.8 L1156.2 1053.1 L1160.7 1061.6 L1164.7 1052.9 L1169.2 1061.4 L1173.2 1052.7 L1177.7 1061.2 L1181.8 1052.5 L1186.2 1061 L1190.3 1052.3 L1194.7 1060.8 L1198.8 1052.1 L1203.2 1060.6 L1207.3 1052" stroke="#35d845" stroke-width="3.4"/><path d="M1108.8 1059.1 L1128.1 1106" stroke="#35d845" stroke-width="6.1" stroke-opacity="0.6"/><path d="M1104.6 1060.9 L1114.7 1061.3 L1107.8 1068.7 L1117.9 1069.1 L1111 1076.5 L1121.1 1076.9 L1114.2 1084.3 L1124.3 1084.7 L1117.4 1092.1 L1127.5 1092.5 L1120.6 1099.9 L1130.7 1100.4 L1123.8 1107.8" stroke="#35d845" stroke-width="3.4"/><path d="M1070.4 981 L1056 1054.3" stroke="#35d845" stroke-width="6.1" stroke-opacity="0.6"/><path d="M1065.9 980.1 L1074 986.2 L1064.2 988.7 L1072.4 994.8 L1062.5 997.4 L1070.7 1003.5 L1060.8 1006 L1069 1012.1 L1059.1 1014.6 L1067.3 1020.7 L1057.4 1023.2 L1065.6 1029.3 L1055.7 1031.9 L1063.9 1038 L1054 1040.5 L1062.2 1046.6 L1052.3 1049.1 L1060.5 1055.2" stroke="#35d845" stroke-width="3.4"/><path d="M1080 981 L1070.4 1018.3" stroke="#35d845" stroke-width="5.2" stroke-opacity="0.6"/><path d="M1076.1 980 L1082.8 986.1 L1074 988.3 L1080.7 994.4 L1071.9 996.6 L1078.5 1002.7 L1069.7 1004.8 L1076.4 1011 L1067.6 1013.1 L1074.3 1019.3" stroke="#35d845" stroke-width="3.4"/><path d="M1060.8 982.2 L1082.4 979.8" stroke="#35d845" stroke-width="4.5" stroke-opacity="0.6"/><path d="M1061.2 985.7 L1064.7 978.3 L1069.8 984.7 L1073.4 977.3 L1078.5 983.8 L1082 976.3" stroke="#35d845" stroke-width="3.4"/><path d="M1087.2 999 L1111.2 1056.7" stroke="#35d845" stroke-width="6.1" stroke-opacity="0.6"/><path d="M1083 1000.8 L1093.2 1001.4 L1086.4 1009 L1096.6 1009.6 L1089.8 1017.3 L1100 1017.9 L1093.3 1025.5 L1103.5 1026.1 L1096.7 1033.8 L1106.9 1034.4 L1100.1 1042 L1110.3 1042.6 L1103.6 1050.3 L1113.8 1050.8 L1107 1058.5" stroke="#35d845" stroke-width="3.4"/><path d="M1027.1 1017.1 L1060.8 1019.5" stroke="#35d845" stroke-width="5.2" stroke-opacity="0.6"/><path d="M1026.8 1021.1 L1031.6 1013.4 L1035.2 1021.7 L1040 1014 L1043.7 1022.3 L1048.4 1014.6 L1052.1 1022.9 L1056.8 1015.2 L1060.5 1023.5" stroke="#35d845" stroke-width="3.4"/><path d="M1072.8 1025.5 L1101.6 1023.1" stroke="#35d845" stroke-width="5.2" stroke-opacity="0.6"/><path d="M1073.1 1029.5 L1077.3 1021.1 L1082.7 1028.7 L1086.9 1020.3 L1092.4 1027.9 L1096.5 1019.5 L1102 1027.1" stroke="#35d845" stroke-width="3.4"/><path d="M1022.3 1042.3 L1058.4 1037.5" stroke="#35d845" stroke-width="5.7" stroke-opacity="0.6"/><path d="M1022.9 1046.6 L1026.2 1037.4 L1031.9 1045.4 L1035.3 1036.2 L1040.9 1044.2 L1044.3 1035 L1049.9 1043 L1053.3 1033.8 L1058.9 1041.8" stroke="#35d845" stroke-width="3.4"/><path d="M1101.6 1023.6 L1108.6 1044.5" stroke="#35d845" stroke-width="6" stroke-opacity="0.6"/><path d="M1097.4 1025 L1107.3 1026.3 L1100.2 1033.3 L1110.1 1034.7 L1102.9 1041.7 L1112.9 1043" stroke="#35d845" stroke-width="3.4"/><path d="M1045.4 1009.4 L1073.5 1011.8" stroke="#35d845" stroke-width="6" stroke-opacity="0.6"/><path d="M1045 1013.9 L1050.5 1005.3 L1054.4 1014.7 L1059.8 1006.1 L1063.8 1015.5 L1069.2 1006.9 L1073.1 1016.3" stroke="#35d845" stroke-width="3.4"/><path d="M1003.6 1032.7 L1040.8 1046.9" stroke="#35d845" stroke-width="6" stroke-opacity="0.6"/><path d="M1002 1036.9 L1009.3 1030.1 L1010.2 1040 L1017.6 1033.2 L1018.5 1043.2 L1025.9 1036.4 L1026.8 1046.4 L1034.1 1039.5 L1035.1 1049.5 L1042.4 1042.7" stroke="#35d845" stroke-width="3.4"/></g>
<g fill="none"><path d="M983.8 1090.4 L981.6 1098.1 L981.3 1104.8 L988.9 1105.5 L999 1104.8 L1005.5 1104.2 L1011.5 1104.5 L1020.1 1103.8 L1027.8 1104.2 L1032.1 1108.5 L1039.5 1115 L1044.8 1119.5 L1040.4 1125.2 L1039.1 1131.1 L1037.8 1138.1 L1035.1 1145.6 L1034.2 1152.3 L1034.2 1157.8 L1029.7 1163.7 L1025.2 1168.6 L1022.6 1175.1 L1018.2 1181 L1011.4 1186.5 L1003.7 1190.1 L999.7 1182.5 L995 1174.5 L992.4 1166.6 L988.5 1161 L987.8 1153.8 L988.5 1147.8" stroke="#f2a3a6" stroke-width="1.5"/><path d="M1034.3 1158.9 L1041.9 1158.8 L1046.6 1161.1" stroke="#f2a3a6" stroke-width="1.4"/><path d="M986.2 1089.2 L1022.3 1084.4" stroke="#e0151b" stroke-width="6.8" stroke-opacity="0.8"/><path d="M986.9 1094 L988.9 1083.9 L993.5 1093.2 L995.4 1083 L1000 1092.3 L1002 1082.1 L1006.6 1091.4 L1008.5 1081.3 L1013.1 1090.5 L1015.1 1080.4 L1019.7 1089.7 L1021.7 1079.5" stroke="#e0151b" stroke-width="2.6"/><path d="M988.7 1096.4 L1019.9 1090.4" stroke="#a51218" stroke-width="4.5" stroke-opacity="0.8"/><path d="M989.3 1099.7 L991.5 1092.4 L996.2 1098.4 L998.4 1091.1 L1003.2 1097.1 L1005.4 1089.7 L1010.1 1095.7 L1012.3 1088.4 L1017.1 1094.4 L1019.3 1087" stroke="#a51218" stroke-width="2.6"/><path d="M981.9 1108.4 L983.8 1138.5" stroke="#e0151b" stroke-width="7.5" stroke-opacity="0.8"/><path d="M976.5 1108.8 L987.5 1111.4 L977 1115.4 L988 1118.1 L977.4 1122.1 L988.4 1124.8 L977.8 1128.8 L988.8 1131.4 L978.2 1135.5 L989.2 1138.1" stroke="#e0151b" stroke-width="2.6"/><path d="M995.9 1121.6 L1019.9 1109.6" stroke="#e0151b" stroke-width="5.2" stroke-opacity="0.8"/><path d="M997.6 1125.1 L997.1 1116.6 L1003.6 1122.1 L1003.1 1113.6 L1009.6 1119.1 L1009.1 1110.6 L1015.6 1116.1 L1015.2 1107.6 L1021.6 1113.1" stroke="#e0151b" stroke-width="2.6"/><path d="M998.3 1134.9 L1022.3 1119.2" stroke="#a51218" stroke-width="4.8" stroke-opacity="0.8"/><path d="M1000.2 1137.9 L999.3 1129.9 L1006.2 1134 L1005.3 1126 L1012.3 1130.1 L1011.3 1122.1 L1018.3 1126.2 L1017.3 1118.2 L1024.3 1122.2" stroke="#a51218" stroke-width="2.6"/><path d="M1007.9 1142.1 L1036.7 1131.2" stroke="#e0151b" stroke-width="4.8" stroke-opacity="0.8"/><path d="M1009.1 1145.4 L1009.8 1137.5 L1015.6 1143 L1016.2 1135.1 L1022 1140.6 L1022.6 1132.7 L1028.4 1138.2 L1029.1 1130.3 L1034.8 1135.8 L1035.5 1127.9" stroke="#e0151b" stroke-width="2.6"/><path d="M988.7 1142.1 L1003.1 1152.9" stroke="#a51218" stroke-width="4.8" stroke-opacity="0.8"/><path d="M986.5 1144.9 L993.7 1141.4 L992.3 1149.3 L999.5 1145.7 L998 1153.6 L1005.2 1150" stroke="#a51218" stroke-width="2.6"/><path d="M1022.3 1160.1 L1034.3 1138.5" stroke="#a51218" stroke-width="4.8" stroke-opacity="0.8"/><path d="M1025.5 1161.8 L1020.9 1155.3 L1028.9 1155.7 L1024.3 1149.1 L1032.3 1149.5 L1027.7 1142.9 L1035.8 1143.3 L1031.2 1136.7" stroke="#a51218" stroke-width="2.6"/></g>
<text transform="translate(725,864) scale(0.930,1)" font-size="40.5" letter-spacing="2.90" font-weight="bold" fill="#161616">AoMbp1 protein</text>
<text transform="translate(724.8,1162.3) scale(0.930,1)" font-size="40.5" letter-spacing="3.43" font-weight="bold" fill="#161616">HTH_APSES</text>
<text transform="translate(1278.7,1162.3) scale(0.930,1)" font-size="40.5" letter-spacing="2.83" font-weight="bold" fill="#161616">RNA polymerase</text>
<g transform="translate(2401.1,0)">
<rect x="14.9" y="641" width="1823" height="62.9" fill="url(#membf)"/>
<rect x="14.9" y="647" width="1823" height="50.9" fill="url(#memb)"/>
<rect x="14.9" y="649.9" width="1823" height="3" fill="#d0e0ec" fill-opacity="0.8"/>
<rect x="14.9" y="692" width="1823" height="3" fill="#d0e0ec" fill-opacity="0.8"/>
<rect x="14.9" y="644.1" width="1823" height="5.8" fill="url(#membl)"/>
<rect x="14.9" y="695" width="1823" height="5.8" fill="url(#membl)"/>
</g>
<g transform="translate(3819.4,667)">
<rect x="-30" y="-36" width="60" height="71" fill="#ee870c"/>
<path d="M-59 -31 C-60 -42 -50 -43 -42 -42 C-36 -41.5 -33 -39 -28 -35 C-19 -27 -14 -14 -14 0 C-14 14 -19 27 -28 35 C-33 39 -36 41.5 -42 42 C-50 43 -60 42 -59 31 C-58 18 -45 12 -45 0 C-45 -12 -58 -18 -59 -31Z" fill="#f7e0b7" stroke="#f5c684" stroke-width="2.5"/>
<path d="M-59 -31 C-60 -42 -50 -43 -42 -42 C-36 -41.5 -33 -39 -28 -35 C-19 -27 -14 -14 -14 0 C-14 14 -19 27 -28 35 C-33 39 -36 41.5 -42 42 C-50 43 -60 42 -59 31 C-58 18 -45 12 -45 0 C-45 -12 -58 -18 -59 -31Z" transform="scale(-1,1)" fill="#f7e0b7" stroke="#f5c684" stroke-width="2.5"/>
</g>
<path d="M3793.7 425.2 C3796.1 425.5 3804.3 425.5 3808.2 427.1 C3812 428.7 3816 431.1 3816.8 434.8 C3817.6 438.5 3816.3 446.1 3813 449.2 C3809.6 452.2 3801.3 452 3796.6 453 C3792 454.1 3787.6 453.5 3785.1 455.5 C3782.5 457.6 3781 461.5 3781.2 465.5 C3781.5 469.6 3787.1 476.3 3786.6 480 C3786.1 483.6 3782.8 486.3 3778.3 487.7 C3773.9 489 3764.6 486.8 3760.1 488.2 C3755.5 489.7 3752.2 492.9 3751 496.3 C3749.9 499.7 3751.2 505 3753.3 508.8 C3755.5 512.7 3762.2 515.9 3763.9 519.4 C3765.6 522.9 3765.1 526.3 3763.5 530 C3762 533.6 3755.4 537.5 3754.7 541.5 C3754 545.5 3756.3 551.6 3759.1 554 C3761.9 556.4 3767.1 555.8 3771.6 555.9 C3776.1 556.1 3782.4 553 3786 555 C3789.7 556.9 3791.6 563.6 3793.7 567.5 C3795.8 571.3 3795.2 576.3 3798.5 578 C3801.9 579.8 3810.7 580.1 3813.9 578 C3817.1 576 3818.1 570 3817.8 565.5 C3817.4 561.1 3811.2 555 3812 551.1 C3812.8 547.2 3818.1 544.2 3822.6 542.1 C3827.1 540 3836.5 541.1 3838.9 538.6 C3841.3 536.1 3837.6 530.9 3837 527.1 C3836.4 523.2 3833.8 519.1 3835.1 515.5 C3836.4 512 3840.7 507.2 3844.7 505.9 C3848.7 504.6 3855.8 505.1 3859.1 507.8 C3862.5 510.6 3861.5 519.4 3864.9 522.3 C3868.2 525.1 3874.3 524.2 3879.3 524.8 C3884.3 525.3 3891.5 523.6 3894.7 525.5 C3897.9 527.5 3899.5 532.3 3898.5 536.7 C3897.6 541.1 3889.7 547.3 3888.9 552.1 C3888.1 556.9 3890.7 561.7 3893.7 565.5 C3896.8 569.4 3905.6 571 3907.2 575.2 C3908.8 579.3 3906.1 587.8 3903.3 590.5 C3900.6 593.3 3895.2 592.1 3890.8 591.5 C3886.5 590.9 3881.1 586.4 3877.4 586.7 C3873.7 587 3870.7 590.2 3868.7 593.4 C3866.8 596.6 3866.2 602.1 3865.8 605.9 C3865.5 609.8 3868.4 614.3 3866.8 616.5 C3865.2 618.7 3859.9 620 3856.2 619.4 C3852.5 618.7 3848.5 613.8 3844.7 612.7 C3840.8 611.5 3836.3 610.9 3833.2 612.7 C3830 614.4 3826.8 619.1 3825.8 623.2 C3824.9 627.4 3826.6 634.7 3827.4 637.7 C3828.2 640.6 3830 639 3830.8 640.9 C3831.5 642.7 3835.2 645.9 3831.9 648.8 C3828.6 651.7 3815.3 655.4 3811 658.2 C3806.8 661.1 3806.5 663.5 3806.3 666.1 C3806 668.8 3805.5 671.4 3809.4 674 C3813.4 676.7 3826.3 678.5 3830 681.9 C3833.7 685.4 3832.2 690.6 3831.6 694.6 C3830.9 698.5 3826.3 701.7 3826 705.6 C3825.8 709.6 3827.5 716 3830 718.3 C3832.5 720.5 3837.1 720.4 3841 719.1 C3845 717.8 3849.9 711.8 3853.7 710.4 C3857.5 708.9 3861.3 708.3 3863.9 710.4 C3866.6 712.5 3866.7 718.4 3869.5 723 C3872.2 727.6 3878.7 735.5 3880.5 738" fill="none" stroke="#9fc0da" stroke-width="7.8" stroke-linecap="butt" stroke-linejoin="round"/>
<g transform="translate(1885,-19)">
<text transform="translate(1110.8,177) scale(0.940,1)" font-size="42" letter-spacing="1.87" fill="#161616">Other protein</text>
<text transform="translate(1626.3,333.5) scale(0.940,1)" font-size="42" letter-spacing="2.41" fill="#161616">Polypeptide</text>
<text transform="translate(1250,616.3) scale(0.940,1)" font-size="42" letter-spacing="2.07" fill="#161616">AoSho1 protein</text>
<text transform="translate(2049.8,556) scale(0.930,1)" font-size="40.5" letter-spacing="2.64" font-weight="bold" fill="#161616">mRNA</text>
<ellipse cx="798" cy="476" rx="169.5" ry="98.5" fill="url(#mapk)"/>
<text x="798" y="504" font-size="92" text-anchor="middle" fill="#0a0a0a">MAPK</text>
<g fill="none" stroke-linecap="round" stroke-linejoin="round"><path d="M1190.6 216.4 C1189 208.5 1203.2 203.7 1209.5 210.8 C1211.1 216.4 1200.1 218.7 1190.6 216.4" stroke="#b3cfe4" stroke-width="2.6"/><path d="M1127.4 257.4 C1125.8 246.4 1140 246.4 1147.9 259 C1155.8 271.7 1162.1 290.6 1164.5 306.4 C1151.1 301.7 1132.1 279.6 1127.4 257.4 Z" stroke="#b3cfe4" stroke-width="2.8"/><path d="M1173.2 315.9 L1201.6 317.5 L1200.1 330.1 L1181.1 334.8 Z" stroke="#b3cfe4" stroke-width="2.6"/><path d="M1233.2 311.2 L1268 293.8 L1270.4 301.7 L1239.6 330.1 L1231.7 317.5" stroke="#b3cfe4" stroke-width="2.6"/><path d="M1168.5 230.6 L1208 221.1" stroke="#b3cfe4" stroke-width="8"/><path d="M1167.7 231.4 C1162.1 262.2 1163.7 293.8 1167.7 320.6 L1177.9 335.6" stroke="#b3cfe4" stroke-width="8"/><path d="M1146.4 262.2 L1165.3 303.3" stroke="#b3cfe4" stroke-width="6"/><path d="M1168.5 301.7 L1198.5 313.5" stroke="#b3cfe4" stroke-width="7"/><path d="M1212.7 219.5 L1236.4 225.8 L1198.5 244.8 L1233.2 256.7 L1209.5 271.7 L1245.9 284.3 L1231.7 296.1 L1266.4 293.8 L1239.6 303.3 L1264.8 297.7" stroke="#9fc0dc" stroke-width="10.5" stroke-linecap="round" stroke-linejoin="round"/><path d="M1204.8 299.3 L1238 293.8" stroke="#c3d9ea" stroke-width="9" stroke-linecap="butt"/><path d="M1204.8 308 L1231.7 315.1" stroke="#9fc0dc" stroke-width="9" stroke-linecap="butt"/></g>
<g transform="translate(4.5,2.5)"><g><path d="M1429 417 C1436 420 1440 414 1446 410 C1452 404 1460 400 1470 393 C1482 386 1476 372 1490 372 C1500 372 1502 362 1511 359 C1524 354 1532 346 1540 346 C1548 344 1552 350 1561 350 C1574 352 1582 356 1578 366 C1574 376 1590 372 1592 382 C1594 390 1598 392 1604 394 C1618 398 1622 384 1632 386 C1644 388 1642 398 1660 398" fill="none" stroke="#8db4d4" stroke-width="3.6" stroke-linecap="round"/><circle cx="1469.5" cy="393" r="15.5" fill="#a9c7e0"/><circle cx="1510.5" cy="359" r="15.5" fill="#6e9ec5"/><circle cx="1561" cy="350" r="15.5" fill="#a0c1db"/><circle cx="1602" cy="393" r="15.5" fill="#88b1d1"/><circle cx="1660" cy="398" r="15.5" fill="#aac8e0"/></g></g>
<g fill="none" stroke-linejoin="round" stroke-linecap="round"><path d="M1142 407 L1144.7 411.4 L1148.7 415.8 L1153.3 418 L1154.6 425 L1159.1 427 L1165 432.7 L1167.6 437.5 L1170.1 441.1 L1173.3 448.5 L1176.1 452.9 L1180.6 454 L1184.9 459.5 L1187.3 461.1 L1193.3 466.3 L1196.8 471.4 L1201 475.5 L1204.1 479.1 L1208.6 483.6 L1214.4 484.6" stroke="#a9c9e8" stroke-width="1.8"/><path d="M1163 478 L1157.2 474.7 L1152.7 472.9 L1146.6 471.7 L1144.7 471 L1139.5 467.1 L1134.1 465.3 L1127.3 461.7 L1121.8 461.4 L1118.1 458 L1112.2 455 L1104.9 455.4 L1100.5 455.1 L1095.2 451.7 L1089 456.5 L1083.4 458 L1077.9 460.7 L1077.4 468.7 L1074.2 472.4 L1073.3 478.7 L1071.2 485.1 L1073 488.5 L1076.3 493.3 L1077.9 497.6 L1083 501.5 L1086 506.2 L1092.3 508.6 L1098.4 510.7 L1105.6 513 L1110.1 515 L1117.1 517.3 L1122.5 520.8 L1127.9 524.2 L1135.3 526.7" stroke="#a9c9e8" stroke-width="1.8"/><path d="M1164 486 L1170.4 488.7 L1176.9 491.3 L1178.7 498.3 L1178.6 503.9 L1187.3 507.4 L1193.2 508.8 L1194.6 513.9 L1197.5 519.6 L1198.5 523.2" stroke="#a9c9e8" stroke-width="1.8"/><path d="M1131 530 L1131.6 536.9 L1130.5 541.3 L1128.9 548.5 L1129.9 554.7 L1132.1 559.3 L1134.4 563.8 L1138.1 567.3 L1140.1 572.5 L1144.1 575.2 L1150.9 577.3 L1148.2 583.2 L1145.6 586.9 L1140.9 592.8 L1138.2 595.8 L1131.5 599.2 L1128.4 603.4 L1131.3 609.6 L1131.2 615.1 L1133.6 621.2 L1139.1 623.4 L1142.4 627.2 L1146.9 631.3 L1149.7 632.6 L1156.3 635.5 L1161.6 635.5 L1167.7 637.4 L1170.9 638.5 L1176.8 637.8 L1182.6 638.3 L1187.2 641 L1183.6 639.8 L1178.8 641 L1172.5 644.6 L1168.3 644.1 L1162.7 645.5 L1157 648.4 L1154.8 641.3 L1154.7 635.7" stroke="#a9c9e8" stroke-width="1.8"/><path d="M1160 528 L1161.1 532.6 L1163.6 538 L1164.9 544.4 L1165.2 550.4 L1166.7 555.8 L1165.5 560.2 L1165.1 567.6 L1162.9 571.2 L1163 579.3 L1161.5 583.7 L1161.3 588.7 L1156 590.4 L1149 590.9 L1150 597.9 L1150.1 602.2 L1151.9 606.6 L1152.1 610.8 L1151.8 616.7 L1154.5 622.8 L1154.5 628.7 L1155.9 633.4" stroke="#a9c9e8" stroke-width="1.8"/><path d="M1130 488 L1132 518 M1128 527 L1168 522 M1136 490 L1158 492 L1162 510 L1152 522 L1138 514 L1140 500 Z" stroke="#5d93cf" stroke-width="3"/><path d="M1146 496 L1156 500 L1152 512 L1144 508Z" stroke="#a9c9e8" stroke-width="2"/><path d="M1207 493 L1314 524" stroke="#2f74c0" stroke-width="7" stroke-opacity="0.8"/><path d="M1205.6 498 L1212 489 L1212.7 500.1 L1219.1 491.1 L1219.8 502.1 L1226.3 493.2 L1227 504.2 L1233.4 495.2 L1234.1 506.3 L1240.5 497.3 L1241.2 508.3 L1247.7 499.4 L1248.4 510.4 L1254.8 501.4 L1255.5 512.5 L1261.9 503.5 L1262.6 514.5 L1269.1 505.6 L1269.8 516.6 L1276.2 507.6 L1276.9 518.7 L1283.3 509.7 L1284 520.7 L1290.5 511.8 L1291.2 522.8 L1297.6 513.8 L1298.3 524.9 L1304.7 515.9 L1305.4 526.9 L1311.9 518 L1312.6 529" stroke="#2f74c0" stroke-width="3"/><path d="M1214 519 L1300 540" stroke="#2f74c0" stroke-width="7" stroke-opacity="0.8"/><path d="M1212.8 524.1 L1218.8 514.8 L1219.9 525.8 L1226 516.6 L1227.1 527.6 L1233.2 518.3 L1234.3 529.3 L1240.3 520.1 L1241.4 531.1 L1247.5 521.8 L1248.6 532.8 L1254.7 523.6 L1255.8 534.6 L1261.8 525.3 L1262.9 536.3 L1269 527.1 L1270.1 538.1 L1276.2 528.8 L1277.3 539.8 L1283.3 530.6 L1284.4 541.6 L1290.5 532.3 L1291.6 543.3 L1297.7 534.1 L1298.8 545.1" stroke="#2f74c0" stroke-width="3"/><path d="M1221 534 L1302 554" stroke="#2f74c0" stroke-width="7" stroke-opacity="0.8"/><path d="M1219.8 539 L1225.8 529.8 L1226.8 540.8 L1232.8 531.6 L1233.8 542.5 L1239.9 533.3 L1240.9 544.3 L1246.9 535 L1247.9 546 L1253.9 536.8 L1255 547.7 L1261 538.5 L1262 549.5 L1268 540.3 L1269.1 551.2 L1275.1 542 L1276.1 553 L1282.1 543.7 L1283.1 554.7 L1289.2 545.5 L1290.2 556.4 L1296.2 547.2 L1297.2 558.2 L1303.2 549" stroke="#2f74c0" stroke-width="3"/><path d="M1210 492 L1206 508" stroke="#2f74c0" stroke-width="7"/><ellipse cx="1197" cy="536" rx="6" ry="12" stroke="#2f74c0" stroke-width="4"/><path d="M1290 552 L1304 556 L1298 560" stroke="#a9c9e8" stroke-width="2"/></g>
<linearGradient id="ag6" gradientUnits="userSpaceOnUse" x1="1435" y1="307" x2="1292" y2="251"><stop offset="0" stop-color="#555" stop-opacity="0"/><stop offset="0.45" stop-color="#222" stop-opacity="0.9"/><stop offset="1" stop-color="#111"/></linearGradient><path d="M1435.2 306.8 L1431 303.1 L1426.8 299.5 L1422.6 296.1 L1418.3 292.7 L1414 289.5 L1409.6 286.4 L1405.3 283.4 L1400.8 280.5 L1396.3 277.7 L1391.8 275 L1387.3 272.4 L1382.7 270 L1378 267.6 L1373.3 265.4 L1368.6 263.3 L1363.8 261.3 L1359 259.5 L1354.1 257.7 L1349.2 256.1 L1344.2 254.5 L1339.2 253.1 L1334.2 251.8 L1329.1 250.7 L1323.9 249.6 L1318.7 248.7 L1313.5 247.8 L1308.2 247.1 L1307.5 256.3 L1312.6 256.6 L1317.7 257 L1322.7 257.5 L1327.7 258.2 L1332.7 258.9 L1337.7 259.8 L1342.6 260.8 L1347.6 261.9 L1352.4 263.2 L1357.3 264.6 L1362.1 266.1 L1366.9 267.7 L1371.7 269.4 L1376.4 271.3 L1381.1 273.3 L1385.8 275.4 L1390.4 277.7 L1395 280.1 L1399.6 282.6 L1404.1 285.2 L1408.6 287.9 L1413.1 290.8 L1417.5 293.8 L1421.9 297 L1426.2 300.3 L1430.5 303.7 L1434.8 307.2Z" fill="url(#ag6)"/><path d="M1292 251 L1316.5 241.6 L1313.1 252 L1315.5 262.6Z" fill="#111"/>
<linearGradient id="ag7" gradientUnits="userSpaceOnUse" x1="1370" y1="372" x2="1249" y2="466"><stop offset="0" stop-color="#555" stop-opacity="0"/><stop offset="0.45" stop-color="#222" stop-opacity="0.9"/><stop offset="1" stop-color="#111"/></linearGradient><path d="M1369.9 371.7 L1363.6 373.5 L1357.5 375.4 L1351.5 377.4 L1345.6 379.4 L1339.9 381.6 L1334.3 383.8 L1328.9 386 L1323.6 388.4 L1318.5 390.9 L1313.5 393.4 L1308.6 396 L1303.9 398.8 L1299.4 401.6 L1295 404.5 L1290.7 407.5 L1286.6 410.6 L1282.6 413.8 L1278.7 417 L1275 420.4 L1271.5 423.9 L1268.1 427.5 L1264.8 431.1 L1261.7 434.9 L1258.7 438.8 L1255.9 442.8 L1253.3 446.8 L1261.1 451.3 L1263.2 447.4 L1265.6 443.5 L1268.1 439.6 L1270.7 435.9 L1273.5 432.2 L1276.5 428.5 L1279.7 425 L1283 421.5 L1286.4 418.1 L1290 414.8 L1293.8 411.5 L1297.8 408.3 L1301.9 405.2 L1306.1 402.2 L1310.6 399.2 L1315.2 396.4 L1319.9 393.6 L1324.9 390.9 L1329.9 388.2 L1335.2 385.7 L1340.6 383.2 L1346.2 380.8 L1351.9 378.6 L1357.8 376.4 L1363.9 374.3 L1370.1 372.3Z" fill="url(#ag7)"/><path d="M1249 466 L1250 439.8 L1258.2 447 L1268.9 448.9Z" fill="#111"/>
<linearGradient id="ag8" gradientUnits="userSpaceOnUse" x1="1094" y1="560" x2="963" y2="562"><stop offset="0" stop-color="#555" stop-opacity="0"/><stop offset="0.45" stop-color="#222" stop-opacity="0.9"/><stop offset="1" stop-color="#111"/></linearGradient><path d="M1093.8 559.8 L1090.2 562.7 L1086.4 565.4 L1082.7 567.8 L1078.9 570.1 L1075 572.2 L1071.1 574 L1067.2 575.6 L1063.2 577.1 L1059.2 578.3 L1055.1 579.3 L1051 580.1 L1046.9 580.7 L1042.7 581.2 L1038.5 581.4 L1034.2 581.4 L1029.9 581.2 L1025.6 580.8 L1021.2 580.2 L1016.8 579.4 L1012.4 578.4 L1007.9 577.2 L1003.3 575.8 L998.8 574.2 L994.2 572.4 L989.5 570.4 L984.8 568.2 L980.1 565.8 L976.3 574 L981.4 576 L986.5 577.9 L991.6 579.6 L996.6 581 L1001.5 582.3 L1006.4 583.4 L1011.2 584.3 L1015.9 584.9 L1020.6 585.4 L1025.2 585.7 L1029.8 585.8 L1034.3 585.6 L1038.7 585.3 L1043.1 584.8 L1047.4 584.1 L1051.6 583.1 L1055.8 582 L1059.9 580.7 L1064 579.2 L1067.9 577.5 L1071.9 575.6 L1075.7 573.5 L1079.5 571.2 L1083.3 568.8 L1087 566.1 L1090.6 563.2 L1094.2 560.2Z" fill="url(#ag8)"/><path d="M963 562 L989.1 563.8 L981.7 571.8 L979.4 582.4Z" fill="#111"/>
<g transform="translate(7.2,4)"><linearGradient id="ag9" gradientUnits="userSpaceOnUse" x1="1855" y1="443" x2="1712" y2="387"><stop offset="0" stop-color="#555" stop-opacity="0"/><stop offset="0.45" stop-color="#222" stop-opacity="0.9"/><stop offset="1" stop-color="#111"/></linearGradient><path d="M1855.2 442.8 L1850.9 438.9 L1846.6 435.1 L1842.2 431.4 L1837.9 427.8 L1833.5 424.4 L1829 421.1 L1824.6 417.9 L1820.1 414.9 L1815.5 412 L1811 409.2 L1806.4 406.5 L1801.7 404 L1797.1 401.6 L1792.4 399.4 L1787.6 397.3 L1782.8 395.3 L1778 393.4 L1773.2 391.7 L1768.3 390.1 L1763.3 388.7 L1758.3 387.4 L1753.3 386.2 L1748.3 385.2 L1743.2 384.3 L1738 383.5 L1732.9 382.9 L1727.7 382.4 L1727.3 391.6 L1732.3 391.7 L1737.2 391.9 L1742.2 392.3 L1747.1 392.8 L1752 393.4 L1756.9 394.2 L1761.8 395.1 L1766.6 396.1 L1771.5 397.3 L1776.3 398.6 L1781.1 400.1 L1785.9 401.7 L1790.6 403.5 L1795.4 405.4 L1800.1 407.4 L1804.8 409.6 L1809.5 411.9 L1814.1 414.4 L1818.7 417 L1823.3 419.8 L1827.9 422.7 L1832.5 425.7 L1837 428.9 L1841.5 432.3 L1846 435.8 L1850.4 439.4 L1854.8 443.2Z" fill="url(#ag9)"/><path d="M1712 387 L1736 376.5 L1733.1 387 L1736 397.5Z" fill="#111"/></g>
</g>
<text x="2530" y="222" font-size="87" class="b" font-style="italic"><tspan font-style="normal">Δ</tspan>AoMbp1</text>
<g transform="translate(1893,-13)">
<text transform="translate(2234.7,770) scale(0.930,1)" font-size="40.5" letter-spacing="2.13" font-weight="bold" fill="#161616">NM</text>
<text transform="translate(2229.9,1161) scale(0.930,1)" font-size="40.5" letter-spacing="0.87" font-weight="bold" fill="#161616">DNA</text>
<text transform="translate(1982.5,980.6) scale(0.930,1)" font-size="40.5" letter-spacing="2.03" font-weight="bold" fill="#161616">mRNA</text>
<linearGradient id="ag10" gradientUnits="userSpaceOnUse" x1="1753" y1="853" x2="1881" y2="775"><stop offset="0" stop-color="#555" stop-opacity="0"/><stop offset="0.45" stop-color="#222" stop-opacity="0.9"/><stop offset="1" stop-color="#111"/></linearGradient><path d="M1753 853.3 L1759.4 852.8 L1765.7 852.3 L1771.8 851.6 L1777.8 850.8 L1783.7 849.8 L1789.4 848.7 L1795 847.4 L1800.4 846.1 L1805.8 844.5 L1810.9 842.8 L1816 841 L1820.9 839 L1825.7 836.9 L1830.3 834.6 L1834.9 832.2 L1839.2 829.6 L1843.5 826.9 L1847.6 824 L1851.6 821 L1855.4 817.8 L1859.1 814.4 L1862.7 810.9 L1866.1 807.2 L1869.4 803.4 L1872.5 799.4 L1875.5 795.3 L1878.3 791 L1869.9 786.1 L1867.6 790.3 L1865.2 794.3 L1862.6 798.3 L1859.8 802.1 L1856.9 805.7 L1853.8 809.3 L1850.6 812.7 L1847.2 815.9 L1843.7 819.1 L1840 822.1 L1836.2 825 L1832.1 827.8 L1828 830.4 L1823.7 832.9 L1819.2 835.3 L1814.5 837.5 L1809.7 839.6 L1804.8 841.6 L1799.6 843.4 L1794.4 845.1 L1788.9 846.6 L1783.3 848 L1777.6 849.2 L1771.6 850.3 L1765.6 851.3 L1759.4 852.1 L1753 852.7Z" fill="url(#ag10)"/><path d="M1881 775 L1879.1 802 L1871.1 794.6 L1860.3 792.6Z" fill="#111"/>
<g><path d="M1557.3 843.8 L1557.3 835.2 L1698.3 835.2 L1698.3 843.8" fill="none" stroke="#b9c0c1" stroke-width="3"/><text x="1631.5" y="833.2" class="tiny" font-size="10" text-anchor="middle">5' cap</text><text x="1615.7" y="850.9" class="tiny" font-size="9" text-anchor="middle">HO OH</text><path d="M1597 857.2 L1597 892.6 M1632.4 857.2 L1632.4 874.9" stroke="#b9c0c1" stroke-width="2.4" fill="none"/><path d="M1598.2 866.1 L1606.9 856.8 L1622.6 856.8 L1631.7 866.1 L1622.6 874.9 L1606.9 874.9 Z" fill="#5c97f5"/><text x="1628.1" y="887.7" class="tiny" font-size="10">CH<tspan font-size="7" dy="2">3</tspan></text><path d="M1650.1 877.3 L1691.5 855.6" stroke="#b9c0c1" stroke-width="1.6" stroke-dasharray="3 5" fill="none"/><circle cx="1656.1" cy="873.9" r="5.2" fill="#f9d9a0"/><circle cx="1656.1" cy="873.9" r="3.6" fill="#ee9b14"/><circle cx="1673.4" cy="864.7" r="5.2" fill="#f9d9a0"/><circle cx="1673.4" cy="864.7" r="3.6" fill="#ee9b14"/><circle cx="1691.5" cy="855.6" r="5.2" fill="#f9d9a0"/><circle cx="1691.5" cy="855.6" r="3.6" fill="#ee9b14"/><path d="M1692.4 861.5 L1692.4 934.3" stroke="#b9c0c1" stroke-width="1.8" stroke-dasharray="3 3" fill="none"/><path d="M1559.7 898.5 L1572.5 891.6 L1584.8 896.5 L1584.8 912.3 L1572.5 917.8 L1559.7 911.3 Z" fill="#abdcc2" stroke="#9db9ac" stroke-width="2"/><path d="M1586.8 896.5 L1599 892.2 L1611.2 904.8 L1599 917.2 L1586.8 912.3 Z" fill="#abdcc2" stroke="#9db9ac" stroke-width="2"/><path d="M1597 917.2 L1597 935.9" stroke="#b9c0c1" stroke-width="2.2" fill="none"/><circle cx="1597.4" cy="941.4" r="8" fill="#b6dfc6"/><text x="1607.9" y="943.8" class="tiny" font-size="7.5">—Methyl group</text><path d="M1601 952 L1632.4 970.3" stroke="#d5dadb" stroke-width="2" fill="none"/><path d="M1642.3 975.2 Q1667.9 950.6 1712.1 938.2" fill="none" stroke="#2fab3d" stroke-width="17.5"/><circle cx="1636.8" cy="979.6" r="8.6" fill="#b4e2c4"/><circle cx="1671.4" cy="956.5" r="4.4" fill="#d6a51e"/><circle cx="1671.4" cy="956.5" r="2" fill="#ee8d10"/><circle cx="1683.6" cy="950.6" r="4.4" fill="#d6a51e"/><circle cx="1683.6" cy="950.6" r="2" fill="#ee8d10"/><circle cx="1696.4" cy="944.7" r="4.4" fill="#d6a51e"/><circle cx="1696.4" cy="944.7" r="2" fill="#ee8d10"/><path d="M1710.7 938.4 C1746.5 927.6 1785.9 931 1825.2 941.8 C1874.4 955.6 1913.7 951.6 1942.2 932.3" fill="none" stroke="#5c97f5" stroke-width="17.5"/><path d="M1947.2 927.6 L2000.3 884.4" fill="none" stroke="#ee72ae" stroke-width="17.5" stroke-linecap="round"/><path d="M1941.3 932.7 L1953.1 923.1" fill="none" stroke="#ee72ae" stroke-width="17.5"/><text x="1718" y="938.8" font-size="9" style="font-family:'Liberation Sans',sans-serif" fill="#2c4f9a" transform="rotate(-8 1718 938.8)">AUG</text><text x="1909.8" y="950" font-size="9" style="font-family:'Liberation Sans',sans-serif" fill="#2c4f9a" transform="rotate(-28 1909.8 950)">UAG</text><text x="1952.1" y="930" font-size="9" style="font-family:'Liberation Sans',sans-serif" fill="#7a2d58" transform="rotate(-40 1952.1 930)">AAAAA</text><text x="1650.1" y="973.3" font-size="8" style="font-family:'Liberation Sans',sans-serif" fill="#1d6b2a" transform="rotate(-45 1650.1 973.3)">5'</text><text x="1760.3" y="959.9" class="tiny" font-size="9">mRN A</text><text x="1889.1" y="891" class="tiny" font-size="8.5">3' poly-A tail</text><text x="1975.7" y="875.9" class="tiny" font-size="9">3'</text><text x="1613.8" y="990" class="tiny" font-size="10">5'</text><text x="1648.6" y="994.9" class="tiny" font-size="10">CH<tspan font-size="7" dy="2">3</tspan></text></g>
</g>
<clipPath id="cdr1"><rect x="2416" y="1015.5" width="617" height="95.5"/></clipPath>
<g clip-path="url(#cdr1)" opacity="1.0">
<path d="M2342.7 1101 L2369.5 1064.4 L2374.1 1055.3 L2378.6 1050.8 L2383.2 1047.8 L2387.8 1046.1 L2392.3 1045.5 L2396.9 1046.1 L2401.5 1047.8 L2406.1 1050.8 L2410.6 1055.3 L2415.2 1064.4 L2442 1101 L2468.8 1064.4 L2473.4 1055.3 L2477.9 1050.8 L2482.5 1047.8 L2487.1 1046.1 L2491.7 1045.5 L2496.2 1046.1 L2500.8 1047.8 L2505.4 1050.8 L2509.9 1055.3 L2514.5 1064.4 L2541.3 1101 L2567.8 1064.4 L2572.3 1055.3 L2576.8 1050.8 L2581.3 1047.8 L2585.8 1046.1 L2590.3 1045.5 L2594.8 1046.1 L2599.3 1047.8 L2603.8 1050.8 L2608.3 1055.3 L2612.8 1064.4 L2639.3 1101 L2665.3 1064.4 L2669.7 1055.3 L2674.2 1050.8 L2678.6 1047.8 L2683 1046.1 L2687.4 1045.5 L2691.9 1046.1 L2696.3 1047.8 L2700.7 1050.8 L2705.2 1055.3 L2709.6 1064.4 L2735.6 1101 L2761 1064.4 L2765.3 1055.3 L2769.7 1050.8 L2774 1047.8 L2778.3 1046.1 L2782.6 1045.5 L2787 1046.1 L2791.3 1047.8 L2795.6 1050.8 L2800 1055.3 L2804.3 1064.4 L2829.7 1101 L2855 1064.4 L2859.3 1055.3 L2863.6 1050.8 L2867.9 1047.8 L2872.2 1046.1 L2876.5 1045.5 L2880.8 1046.1 L2885.1 1047.8 L2889.4 1050.8 L2893.7 1055.3 L2898 1064.4 L2923.3 1101 L2947.3 1064.4 L2951.4 1055.3 L2955.5 1050.8 L2959.6 1047.8 L2963.7 1046.1 L2967.8 1045.5 L2971.8 1046.1 L2975.9 1047.8 L2980 1050.8 L2984.1 1055.3 L2988.2 1064.4 L3012.2 1101 L3040.1 1064.4 L3044.9 1055.3 L3049.6 1050.8 L3054.4 1047.8 L3059.1 1046.1 L3063.9 1045.5 L3068.7 1046.1 L3073.4 1047.8 L3078.2 1050.8 L3082.9 1055.3 L3087.7 1064.4 L3115.6 1101 L3158.8 1101 L3130.2 1064.4 L3125.4 1055.3 L3120.5 1050.8 L3115.6 1047.8 L3110.8 1046.1 L3105.9 1045.5 L3101 1046.1 L3096.2 1047.8 L3091.3 1050.8 L3086.4 1055.3 L3081.6 1064.4 L3053 1101 L3027.7 1064.4 L3023.4 1055.3 L3019.1 1050.8 L3014.8 1047.8 L3010.5 1046.1 L3006.2 1045.5 L3001.8 1046.1 L2997.5 1047.8 L2993.2 1050.8 L2988.9 1055.3 L2984.6 1064.4 L2959.3 1101 L2934.5 1064.4 L2930.3 1055.3 L2926.1 1050.8 L2921.9 1047.8 L2917.7 1046.1 L2913.4 1045.5 L2909.2 1046.1 L2905 1047.8 L2900.8 1050.8 L2896.6 1055.3 L2892.4 1064.4 L2867.6 1101 L2842.3 1064.4 L2838 1055.3 L2833.7 1050.8 L2829.4 1047.8 L2825.1 1046.1 L2820.8 1045.5 L2816.5 1046.1 L2812.2 1047.8 L2807.9 1050.8 L2803.6 1055.3 L2799.3 1064.4 L2774 1101 L2748.1 1064.4 L2743.7 1055.3 L2739.3 1050.8 L2734.9 1047.8 L2730.5 1046.1 L2726.1 1045.5 L2721.7 1046.1 L2717.3 1047.8 L2712.9 1050.8 L2708.5 1055.3 L2704.1 1064.4 L2678.2 1101 L2651.8 1064.4 L2647.3 1055.3 L2642.8 1050.8 L2638.3 1047.8 L2633.8 1046.1 L2629.2 1045.5 L2624.7 1046.1 L2620.2 1047.8 L2615.7 1050.8 L2611.2 1055.3 L2606.7 1064.4 L2580.3 1101 L2554 1064.4 L2549.6 1055.3 L2545.1 1050.8 L2540.6 1047.8 L2536.1 1046.1 L2531.7 1045.5 L2527.2 1046.1 L2522.7 1047.8 L2518.2 1050.8 L2513.7 1055.3 L2509.3 1064.4 L2483 1101 L2456.7 1064.4 L2452.3 1055.3 L2447.8 1050.8 L2443.3 1047.8 L2438.8 1046.1 L2434.3 1045.5 L2429.9 1046.1 L2425.4 1047.8 L2420.9 1050.8 L2416.4 1055.3 L2412 1064.4 L2385.7 1101 L2359.4 1064.4 L2355 1055.3 L2350.5 1050.8 L2346 1047.8 L2341.5 1046.1 L2337 1045.5 L2332.6 1046.1 L2328.1 1047.8 L2323.6 1050.8 L2319.1 1055.3 L2314.7 1064.4 L2288.4 1101 Z" fill="url(#dnastripe)" fill-rule="nonzero"/>
<path d="M2342.7 1101 L2369.5 1064.4 L2374.1 1055.3 L2378.6 1050.8 L2383.2 1047.8 L2387.8 1046.1 L2392.3 1045.5 L2396.9 1046.1 L2401.5 1047.8 L2406.1 1050.8 L2410.6 1055.3 L2415.2 1064.4 L2442 1101 L2468.8 1064.4 L2473.4 1055.3 L2477.9 1050.8 L2482.5 1047.8 L2487.1 1046.1 L2491.7 1045.5 L2496.2 1046.1 L2500.8 1047.8 L2505.4 1050.8 L2509.9 1055.3 L2514.5 1064.4 L2541.3 1101 L2567.8 1064.4 L2572.3 1055.3 L2576.8 1050.8 L2581.3 1047.8 L2585.8 1046.1 L2590.3 1045.5 L2594.8 1046.1 L2599.3 1047.8 L2603.8 1050.8 L2608.3 1055.3 L2612.8 1064.4 L2639.3 1101 L2665.3 1064.4 L2669.7 1055.3 L2674.2 1050.8 L2678.6 1047.8 L2683 1046.1 L2687.4 1045.5 L2691.9 1046.1 L2696.3 1047.8 L2700.7 1050.8 L2705.2 1055.3 L2709.6 1064.4 L2735.6 1101 L2761 1064.4 L2765.3 1055.3 L2769.7 1050.8 L2774 1047.8 L2778.3 1046.1 L2782.6 1045.5 L2787 1046.1 L2791.3 1047.8 L2795.6 1050.8 L2800 1055.3 L2804.3 1064.4 L2829.7 1101 L2855 1064.4 L2859.3 1055.3 L2863.6 1050.8 L2867.9 1047.8 L2872.2 1046.1 L2876.5 1045.5 L2880.8 1046.1 L2885.1 1047.8 L2889.4 1050.8 L2893.7 1055.3 L2898 1064.4 L2923.3 1101 L2947.3 1064.4 L2951.4 1055.3 L2955.5 1050.8 L2959.6 1047.8 L2963.7 1046.1 L2967.8 1045.5 L2971.8 1046.1 L2975.9 1047.8 L2980 1050.8 L2984.1 1055.3 L2988.2 1064.4 L3012.2 1101 L3040.1 1064.4 L3044.9 1055.3 L3049.6 1050.8 L3054.4 1047.8 L3059.1 1046.1 L3063.9 1045.5 L3068.7 1046.1 L3073.4 1047.8 L3078.2 1050.8 L3082.9 1055.3 L3087.7 1064.4 L3115.6 1101 L3158.8 1101 L3130.2 1064.4 L3125.4 1055.3 L3120.5 1050.8 L3115.6 1047.8 L3110.8 1046.1 L3105.9 1045.5 L3101 1046.1 L3096.2 1047.8 L3091.3 1050.8 L3086.4 1055.3 L3081.6 1064.4 L3053 1101 L3027.7 1064.4 L3023.4 1055.3 L3019.1 1050.8 L3014.8 1047.8 L3010.5 1046.1 L3006.2 1045.5 L3001.8 1046.1 L2997.5 1047.8 L2993.2 1050.8 L2988.9 1055.3 L2984.6 1064.4 L2959.3 1101 L2934.5 1064.4 L2930.3 1055.3 L2926.1 1050.8 L2921.9 1047.8 L2917.7 1046.1 L2913.4 1045.5 L2909.2 1046.1 L2905 1047.8 L2900.8 1050.8 L2896.6 1055.3 L2892.4 1064.4 L2867.6 1101 L2842.3 1064.4 L2838 1055.3 L2833.7 1050.8 L2829.4 1047.8 L2825.1 1046.1 L2820.8 1045.5 L2816.5 1046.1 L2812.2 1047.8 L2807.9 1050.8 L2803.6 1055.3 L2799.3 1064.4 L2774 1101 L2748.1 1064.4 L2743.7 1055.3 L2739.3 1050.8 L2734.9 1047.8 L2730.5 1046.1 L2726.1 1045.5 L2721.7 1046.1 L2717.3 1047.8 L2712.9 1050.8 L2708.5 1055.3 L2704.1 1064.4 L2678.2 1101 L2651.8 1064.4 L2647.3 1055.3 L2642.8 1050.8 L2638.3 1047.8 L2633.8 1046.1 L2629.2 1045.5 L2624.7 1046.1 L2620.2 1047.8 L2615.7 1050.8 L2611.2 1055.3 L2606.7 1064.4 L2580.3 1101 L2554 1064.4 L2549.6 1055.3 L2545.1 1050.8 L2540.6 1047.8 L2536.1 1046.1 L2531.7 1045.5 L2527.2 1046.1 L2522.7 1047.8 L2518.2 1050.8 L2513.7 1055.3 L2509.3 1064.4 L2483 1101 L2456.7 1064.4 L2452.3 1055.3 L2447.8 1050.8 L2443.3 1047.8 L2438.8 1046.1 L2434.3 1045.5 L2429.9 1046.1 L2425.4 1047.8 L2420.9 1050.8 L2416.4 1055.3 L2412 1064.4 L2385.7 1101 L2359.4 1064.4 L2355 1055.3 L2350.5 1050.8 L2346 1047.8 L2341.5 1046.1 L2337 1045.5 L2332.6 1046.1 L2328.1 1047.8 L2323.6 1050.8 L2319.1 1055.3 L2314.7 1064.4 L2288.4 1101 Z" fill="url(#dnafade)" fill-rule="nonzero"/>
<path d="M2342.7 1101 L2369.5 1064.4 L2374.1 1055.3 L2378.6 1050.8 L2383.2 1047.8 L2387.8 1046.1 L2392.3 1045.5 L2396.9 1046.1 L2401.5 1047.8 L2406.1 1050.8 L2410.6 1055.3 L2415.2 1064.4 L2442 1101 L2468.8 1064.4 L2473.4 1055.3 L2477.9 1050.8 L2482.5 1047.8 L2487.1 1046.1 L2491.7 1045.5 L2496.2 1046.1 L2500.8 1047.8 L2505.4 1050.8 L2509.9 1055.3 L2514.5 1064.4 L2541.3 1101 L2567.8 1064.4 L2572.3 1055.3 L2576.8 1050.8 L2581.3 1047.8 L2585.8 1046.1 L2590.3 1045.5 L2594.8 1046.1 L2599.3 1047.8 L2603.8 1050.8 L2608.3 1055.3 L2612.8 1064.4 L2639.3 1101 L2665.3 1064.4 L2669.7 1055.3 L2674.2 1050.8 L2678.6 1047.8 L2683 1046.1 L2687.4 1045.5 L2691.9 1046.1 L2696.3 1047.8 L2700.7 1050.8 L2705.2 1055.3 L2709.6 1064.4 L2735.6 1101 L2761 1064.4 L2765.3 1055.3 L2769.7 1050.8 L2774 1047.8 L2778.3 1046.1 L2782.6 1045.5 L2787 1046.1 L2791.3 1047.8 L2795.6 1050.8 L2800 1055.3 L2804.3 1064.4 L2829.7 1101 L2855 1064.4 L2859.3 1055.3 L2863.6 1050.8 L2867.9 1047.8 L2872.2 1046.1 L2876.5 1045.5 L2880.8 1046.1 L2885.1 1047.8 L2889.4 1050.8 L2893.7 1055.3 L2898 1064.4 L2923.3 1101 L2947.3 1064.4 L2951.4 1055.3 L2955.5 1050.8 L2959.6 1047.8 L2963.7 1046.1 L2967.8 1045.5 L2971.8 1046.1 L2975.9 1047.8 L2980 1050.8 L2984.1 1055.3 L2988.2 1064.4 L3012.2 1101 L3040.1 1064.4 L3044.9 1055.3 L3049.6 1050.8 L3054.4 1047.8 L3059.1 1046.1 L3063.9 1045.5 L3068.7 1046.1 L3073.4 1047.8 L3078.2 1050.8 L3082.9 1055.3 L3087.7 1064.4 L3115.6 1101" fill="none" stroke="#d98f38" stroke-width="2.2" stroke-linejoin="round"/>
<path d="M2288.4 1101 L2314.7 1064.4 L2319.1 1055.3 L2323.6 1050.8 L2328.1 1047.8 L2332.6 1046.1 L2337 1045.5 L2341.5 1046.1 L2346 1047.8 L2350.5 1050.8 L2355 1055.3 L2359.4 1064.4 L2385.7 1101 L2412 1064.4 L2416.4 1055.3 L2420.9 1050.8 L2425.4 1047.8 L2429.9 1046.1 L2434.3 1045.5 L2438.8 1046.1 L2443.3 1047.8 L2447.8 1050.8 L2452.3 1055.3 L2456.7 1064.4 L2483 1101 L2509.3 1064.4 L2513.7 1055.3 L2518.2 1050.8 L2522.7 1047.8 L2527.2 1046.1 L2531.7 1045.5 L2536.1 1046.1 L2540.6 1047.8 L2545.1 1050.8 L2549.6 1055.3 L2554 1064.4 L2580.3 1101 L2606.7 1064.4 L2611.2 1055.3 L2615.7 1050.8 L2620.2 1047.8 L2624.7 1046.1 L2629.2 1045.5 L2633.8 1046.1 L2638.3 1047.8 L2642.8 1050.8 L2647.3 1055.3 L2651.8 1064.4 L2678.2 1101 L2704.1 1064.4 L2708.5 1055.3 L2712.9 1050.8 L2717.3 1047.8 L2721.7 1046.1 L2726.1 1045.5 L2730.5 1046.1 L2734.9 1047.8 L2739.3 1050.8 L2743.7 1055.3 L2748.1 1064.4 L2774 1101 L2799.3 1064.4 L2803.6 1055.3 L2807.9 1050.8 L2812.2 1047.8 L2816.5 1046.1 L2820.8 1045.5 L2825.1 1046.1 L2829.4 1047.8 L2833.7 1050.8 L2838 1055.3 L2842.3 1064.4 L2867.6 1101 L2892.4 1064.4 L2896.6 1055.3 L2900.8 1050.8 L2905 1047.8 L2909.2 1046.1 L2913.4 1045.5 L2917.7 1046.1 L2921.9 1047.8 L2926.1 1050.8 L2930.3 1055.3 L2934.5 1064.4 L2959.3 1101 L2984.6 1064.4 L2988.9 1055.3 L2993.2 1050.8 L2997.5 1047.8 L3001.8 1046.1 L3006.2 1045.5 L3010.5 1046.1 L3014.8 1047.8 L3019.1 1050.8 L3023.4 1055.3 L3027.7 1064.4 L3053 1101 L3081.6 1064.4 L3086.4 1055.3 L3091.3 1050.8 L3096.2 1047.8 L3101 1046.1 L3105.9 1045.5 L3110.8 1046.1 L3115.6 1047.8 L3120.5 1050.8 L3125.4 1055.3 L3130.2 1064.4 L3158.8 1101" fill="none" stroke="#d98f38" stroke-width="2.2" stroke-linejoin="round"/>
</g>
<clipPath id="cdr1b"><rect x="3033" y="1006" width="157" height="105"/></clipPath>
<g clip-path="url(#cdr1b)" opacity="1.0">
<path d="M2442 1101 L2468.8 1058.1 L2473.4 1047.4 L2477.9 1042.2 L2482.5 1038.7 L2487.1 1036.7 L2491.7 1036 L2496.2 1036.7 L2500.8 1038.7 L2505.4 1042.2 L2509.9 1047.4 L2514.5 1058.1 L2541.3 1101 L2567.8 1058.1 L2572.3 1047.4 L2576.8 1042.2 L2581.3 1038.7 L2585.8 1036.7 L2590.3 1036 L2594.8 1036.7 L2599.3 1038.7 L2603.8 1042.2 L2608.3 1047.4 L2612.8 1058.1 L2639.3 1101 L2665.3 1058.1 L2669.7 1047.4 L2674.2 1042.2 L2678.6 1038.7 L2683 1036.7 L2687.4 1036 L2691.9 1036.7 L2696.3 1038.7 L2700.7 1042.2 L2705.2 1047.4 L2709.6 1058.1 L2735.6 1101 L2761 1058.1 L2765.3 1047.4 L2769.7 1042.2 L2774 1038.7 L2778.3 1036.7 L2782.6 1036 L2787 1036.7 L2791.3 1038.7 L2795.6 1042.2 L2800 1047.4 L2804.3 1058.1 L2829.7 1101 L2855 1058.1 L2859.3 1047.4 L2863.6 1042.2 L2867.9 1038.7 L2872.2 1036.7 L2876.5 1036 L2880.8 1036.7 L2885.1 1038.7 L2889.4 1042.2 L2893.7 1047.4 L2898 1058.1 L2923.3 1101 L2947.3 1058.1 L2951.4 1047.4 L2955.5 1042.2 L2959.6 1038.7 L2963.7 1036.7 L2967.8 1036 L2971.8 1036.7 L2975.9 1038.7 L2980 1042.2 L2984.1 1047.4 L2988.2 1058.1 L3012.2 1101 L3040.1 1058.1 L3044.9 1047.4 L3049.6 1042.2 L3054.4 1038.7 L3059.1 1036.7 L3063.9 1036 L3068.7 1036.7 L3073.4 1038.7 L3078.2 1042.2 L3082.9 1047.4 L3087.7 1058.1 L3115.6 1101 L3143.5 1058.1 L3148.3 1047.4 L3153 1042.2 L3157.8 1038.7 L3162.5 1036.7 L3167.3 1036 L3172.1 1036.7 L3176.8 1038.7 L3181.6 1042.2 L3186.3 1047.4 L3191.1 1058.1 L3219 1101 L3246.9 1058.1 L3251.7 1047.4 L3256.4 1042.2 L3261.2 1038.7 L3265.9 1036.7 L3270.7 1036 L3275.5 1036.7 L3280.2 1038.7 L3285 1042.2 L3289.7 1047.4 L3294.5 1058.1 L3322.4 1101 L3264.6 1101 L3236 1058.1 L3231.2 1047.4 L3226.3 1042.2 L3221.4 1038.7 L3216.6 1036.7 L3211.7 1036 L3206.8 1036.7 L3202 1038.7 L3197.1 1042.2 L3192.2 1047.4 L3187.4 1058.1 L3158.8 1101 L3130.2 1058.1 L3125.4 1047.4 L3120.5 1042.2 L3115.6 1038.7 L3110.8 1036.7 L3105.9 1036 L3101 1036.7 L3096.2 1038.7 L3091.3 1042.2 L3086.4 1047.4 L3081.6 1058.1 L3053 1101 L3027.7 1058.1 L3023.4 1047.4 L3019.1 1042.2 L3014.8 1038.7 L3010.5 1036.7 L3006.2 1036 L3001.8 1036.7 L2997.5 1038.7 L2993.2 1042.2 L2988.9 1047.4 L2984.6 1058.1 L2959.3 1101 L2934.5 1058.1 L2930.3 1047.4 L2926.1 1042.2 L2921.9 1038.7 L2917.7 1036.7 L2913.4 1036 L2909.2 1036.7 L2905 1038.7 L2900.8 1042.2 L2896.6 1047.4 L2892.4 1058.1 L2867.6 1101 L2842.3 1058.1 L2838 1047.4 L2833.7 1042.2 L2829.4 1038.7 L2825.1 1036.7 L2820.8 1036 L2816.5 1036.7 L2812.2 1038.7 L2807.9 1042.2 L2803.6 1047.4 L2799.3 1058.1 L2774 1101 L2748.1 1058.1 L2743.7 1047.4 L2739.3 1042.2 L2734.9 1038.7 L2730.5 1036.7 L2726.1 1036 L2721.7 1036.7 L2717.3 1038.7 L2712.9 1042.2 L2708.5 1047.4 L2704.1 1058.1 L2678.2 1101 L2651.8 1058.1 L2647.3 1047.4 L2642.8 1042.2 L2638.3 1038.7 L2633.8 1036.7 L2629.2 1036 L2624.7 1036.7 L2620.2 1038.7 L2615.7 1042.2 L2611.2 1047.4 L2606.7 1058.1 L2580.3 1101 L2554 1058.1 L2549.6 1047.4 L2545.1 1042.2 L2540.6 1038.7 L2536.1 1036.7 L2531.7 1036 L2527.2 1036.7 L2522.7 1038.7 L2518.2 1042.2 L2513.7 1047.4 L2509.3 1058.1 L2483 1101 Z" fill="url(#dnastripe)" fill-rule="nonzero"/>
<path d="M2442 1101 L2468.8 1058.1 L2473.4 1047.4 L2477.9 1042.2 L2482.5 1038.7 L2487.1 1036.7 L2491.7 1036 L2496.2 1036.7 L2500.8 1038.7 L2505.4 1042.2 L2509.9 1047.4 L2514.5 1058.1 L2541.3 1101 L2567.8 1058.1 L2572.3 1047.4 L2576.8 1042.2 L2581.3 1038.7 L2585.8 1036.7 L2590.3 1036 L2594.8 1036.7 L2599.3 1038.7 L2603.8 1042.2 L2608.3 1047.4 L2612.8 1058.1 L2639.3 1101 L2665.3 1058.1 L2669.7 1047.4 L2674.2 1042.2 L2678.6 1038.7 L2683 1036.7 L2687.4 1036 L2691.9 1036.7 L2696.3 1038.7 L2700.7 1042.2 L2705.2 1047.4 L2709.6 1058.1 L2735.6 1101 L2761 1058.1 L2765.3 1047.4 L2769.7 1042.2 L2774 1038.7 L2778.3 1036.7 L2782.6 1036 L2787 1036.7 L2791.3 1038.7 L2795.6 1042.2 L2800 1047.4 L2804.3 1058.1 L2829.7 1101 L2855 1058.1 L2859.3 1047.4 L2863.6 1042.2 L2867.9 1038.7 L2872.2 1036.7 L2876.5 1036 L2880.8 1036.7 L2885.1 1038.7 L2889.4 1042.2 L2893.7 1047.4 L2898 1058.1 L2923.3 1101 L2947.3 1058.1 L2951.4 1047.4 L2955.5 1042.2 L2959.6 1038.7 L2963.7 1036.7 L2967.8 1036 L2971.8 1036.7 L2975.9 1038.7 L2980 1042.2 L2984.1 1047.4 L2988.2 1058.1 L3012.2 1101 L3040.1 1058.1 L3044.9 1047.4 L3049.6 1042.2 L3054.4 1038.7 L3059.1 1036.7 L3063.9 1036 L3068.7 1036.7 L3073.4 1038.7 L3078.2 1042.2 L3082.9 1047.4 L3087.7 1058.1 L3115.6 1101 L3143.5 1058.1 L3148.3 1047.4 L3153 1042.2 L3157.8 1038.7 L3162.5 1036.7 L3167.3 1036 L3172.1 1036.7 L3176.8 1038.7 L3181.6 1042.2 L3186.3 1047.4 L3191.1 1058.1 L3219 1101 L3246.9 1058.1 L3251.7 1047.4 L3256.4 1042.2 L3261.2 1038.7 L3265.9 1036.7 L3270.7 1036 L3275.5 1036.7 L3280.2 1038.7 L3285 1042.2 L3289.7 1047.4 L3294.5 1058.1 L3322.4 1101 L3264.6 1101 L3236 1058.1 L3231.2 1047.4 L3226.3 1042.2 L3221.4 1038.7 L3216.6 1036.7 L3211.7 1036 L3206.8 1036.7 L3202 1038.7 L3197.1 1042.2 L3192.2 1047.4 L3187.4 1058.1 L3158.8 1101 L3130.2 1058.1 L3125.4 1047.4 L3120.5 1042.2 L3115.6 1038.7 L3110.8 1036.7 L3105.9 1036 L3101 1036.7 L3096.2 1038.7 L3091.3 1042.2 L3086.4 1047.4 L3081.6 1058.1 L3053 1101 L3027.7 1058.1 L3023.4 1047.4 L3019.1 1042.2 L3014.8 1038.7 L3010.5 1036.7 L3006.2 1036 L3001.8 1036.7 L2997.5 1038.7 L2993.2 1042.2 L2988.9 1047.4 L2984.6 1058.1 L2959.3 1101 L2934.5 1058.1 L2930.3 1047.4 L2926.1 1042.2 L2921.9 1038.7 L2917.7 1036.7 L2913.4 1036 L2909.2 1036.7 L2905 1038.7 L2900.8 1042.2 L2896.6 1047.4 L2892.4 1058.1 L2867.6 1101 L2842.3 1058.1 L2838 1047.4 L2833.7 1042.2 L2829.4 1038.7 L2825.1 1036.7 L2820.8 1036 L2816.5 1036.7 L2812.2 1038.7 L2807.9 1042.2 L2803.6 1047.4 L2799.3 1058.1 L2774 1101 L2748.1 1058.1 L2743.7 1047.4 L2739.3 1042.2 L2734.9 1038.7 L2730.5 1036.7 L2726.1 1036 L2721.7 1036.7 L2717.3 1038.7 L2712.9 1042.2 L2708.5 1047.4 L2704.1 1058.1 L2678.2 1101 L2651.8 1058.1 L2647.3 1047.4 L2642.8 1042.2 L2638.3 1038.7 L2633.8 1036.7 L2629.2 1036 L2624.7 1036.7 L2620.2 1038.7 L2615.7 1042.2 L2611.2 1047.4 L2606.7 1058.1 L2580.3 1101 L2554 1058.1 L2549.6 1047.4 L2545.1 1042.2 L2540.6 1038.7 L2536.1 1036.7 L2531.7 1036 L2527.2 1036.7 L2522.7 1038.7 L2518.2 1042.2 L2513.7 1047.4 L2509.3 1058.1 L2483 1101 Z" fill="url(#dnafade)" fill-rule="nonzero"/>
<path d="M2442 1101 L2468.8 1058.1 L2473.4 1047.4 L2477.9 1042.2 L2482.5 1038.7 L2487.1 1036.7 L2491.7 1036 L2496.2 1036.7 L2500.8 1038.7 L2505.4 1042.2 L2509.9 1047.4 L2514.5 1058.1 L2541.3 1101 L2567.8 1058.1 L2572.3 1047.4 L2576.8 1042.2 L2581.3 1038.7 L2585.8 1036.7 L2590.3 1036 L2594.8 1036.7 L2599.3 1038.7 L2603.8 1042.2 L2608.3 1047.4 L2612.8 1058.1 L2639.3 1101 L2665.3 1058.1 L2669.7 1047.4 L2674.2 1042.2 L2678.6 1038.7 L2683 1036.7 L2687.4 1036 L2691.9 1036.7 L2696.3 1038.7 L2700.7 1042.2 L2705.2 1047.4 L2709.6 1058.1 L2735.6 1101 L2761 1058.1 L2765.3 1047.4 L2769.7 1042.2 L2774 1038.7 L2778.3 1036.7 L2782.6 1036 L2787 1036.7 L2791.3 1038.7 L2795.6 1042.2 L2800 1047.4 L2804.3 1058.1 L2829.7 1101 L2855 1058.1 L2859.3 1047.4 L2863.6 1042.2 L2867.9 1038.7 L2872.2 1036.7 L2876.5 1036 L2880.8 1036.7 L2885.1 1038.7 L2889.4 1042.2 L2893.7 1047.4 L2898 1058.1 L2923.3 1101 L2947.3 1058.1 L2951.4 1047.4 L2955.5 1042.2 L2959.6 1038.7 L2963.7 1036.7 L2967.8 1036 L2971.8 1036.7 L2975.9 1038.7 L2980 1042.2 L2984.1 1047.4 L2988.2 1058.1 L3012.2 1101 L3040.1 1058.1 L3044.9 1047.4 L3049.6 1042.2 L3054.4 1038.7 L3059.1 1036.7 L3063.9 1036 L3068.7 1036.7 L3073.4 1038.7 L3078.2 1042.2 L3082.9 1047.4 L3087.7 1058.1 L3115.6 1101 L3143.5 1058.1 L3148.3 1047.4 L3153 1042.2 L3157.8 1038.7 L3162.5 1036.7 L3167.3 1036 L3172.1 1036.7 L3176.8 1038.7 L3181.6 1042.2 L3186.3 1047.4 L3191.1 1058.1 L3219 1101 L3246.9 1058.1 L3251.7 1047.4 L3256.4 1042.2 L3261.2 1038.7 L3265.9 1036.7 L3270.7 1036 L3275.5 1036.7 L3280.2 1038.7 L3285 1042.2 L3289.7 1047.4 L3294.5 1058.1 L3322.4 1101" fill="none" stroke="#d98f38" stroke-width="2.2" stroke-linejoin="round"/>
<path d="M2483 1101 L2509.3 1058.1 L2513.7 1047.4 L2518.2 1042.2 L2522.7 1038.7 L2527.2 1036.7 L2531.7 1036 L2536.1 1036.7 L2540.6 1038.7 L2545.1 1042.2 L2549.6 1047.4 L2554 1058.1 L2580.3 1101 L2606.7 1058.1 L2611.2 1047.4 L2615.7 1042.2 L2620.2 1038.7 L2624.7 1036.7 L2629.2 1036 L2633.8 1036.7 L2638.3 1038.7 L2642.8 1042.2 L2647.3 1047.4 L2651.8 1058.1 L2678.2 1101 L2704.1 1058.1 L2708.5 1047.4 L2712.9 1042.2 L2717.3 1038.7 L2721.7 1036.7 L2726.1 1036 L2730.5 1036.7 L2734.9 1038.7 L2739.3 1042.2 L2743.7 1047.4 L2748.1 1058.1 L2774 1101 L2799.3 1058.1 L2803.6 1047.4 L2807.9 1042.2 L2812.2 1038.7 L2816.5 1036.7 L2820.8 1036 L2825.1 1036.7 L2829.4 1038.7 L2833.7 1042.2 L2838 1047.4 L2842.3 1058.1 L2867.6 1101 L2892.4 1058.1 L2896.6 1047.4 L2900.8 1042.2 L2905 1038.7 L2909.2 1036.7 L2913.4 1036 L2917.7 1036.7 L2921.9 1038.7 L2926.1 1042.2 L2930.3 1047.4 L2934.5 1058.1 L2959.3 1101 L2984.6 1058.1 L2988.9 1047.4 L2993.2 1042.2 L2997.5 1038.7 L3001.8 1036.7 L3006.2 1036 L3010.5 1036.7 L3014.8 1038.7 L3019.1 1042.2 L3023.4 1047.4 L3027.7 1058.1 L3053 1101 L3081.6 1058.1 L3086.4 1047.4 L3091.3 1042.2 L3096.2 1038.7 L3101 1036.7 L3105.9 1036 L3110.8 1036.7 L3115.6 1038.7 L3120.5 1042.2 L3125.4 1047.4 L3130.2 1058.1 L3158.8 1101 L3187.4 1058.1 L3192.2 1047.4 L3197.1 1042.2 L3202 1038.7 L3206.8 1036.7 L3211.7 1036 L3216.6 1036.7 L3221.4 1038.7 L3226.3 1042.2 L3231.2 1047.4 L3236 1058.1 L3264.6 1101" fill="none" stroke="#d98f38" stroke-width="2.2" stroke-linejoin="round"/>
</g>
<clipPath id="cdr2"><rect x="3388" y="1007" width="851" height="97"/></clipPath>
<g clip-path="url(#cdr2)" opacity="1.0">
<path d="M3279.7 1094 L3305.7 1056.4 L3310.1 1047 L3314.6 1042.4 L3319 1039.4 L3323.4 1037.6 L3327.8 1037 L3332.3 1037.6 L3336.7 1039.4 L3341.1 1042.4 L3345.6 1047 L3350 1056.4 L3376 1094 L3402 1056.4 L3406.4 1047 L3410.9 1042.4 L3415.3 1039.4 L3419.7 1037.6 L3424.2 1037 L3428.6 1037.6 L3433 1039.4 L3437.4 1042.4 L3441.9 1047 L3446.3 1056.4 L3472.3 1094 L3498.3 1056.4 L3502.7 1047 L3507.1 1042.4 L3511.5 1039.4 L3516 1037.6 L3520.4 1037 L3524.8 1037.6 L3529.3 1039.4 L3533.7 1042.4 L3538.1 1047 L3542.5 1056.4 L3568.5 1094 L3595.1 1056.4 L3599.6 1047 L3604.2 1042.4 L3608.7 1039.4 L3613.2 1037.6 L3617.8 1037 L3622.3 1037.6 L3626.8 1039.4 L3631.3 1042.4 L3635.9 1047 L3640.4 1056.4 L3667 1094 L3693.6 1056.4 L3698.2 1047 L3702.7 1042.4 L3707.2 1039.4 L3711.8 1037.6 L3716.3 1037 L3720.8 1037.6 L3725.4 1039.4 L3729.9 1042.4 L3734.4 1047 L3739 1056.4 L3765.6 1094 L3790.3 1056.4 L3794.5 1047 L3798.7 1042.4 L3802.9 1039.4 L3807.1 1037.6 L3811.3 1037 L3815.5 1037.6 L3819.7 1039.4 L3823.9 1042.4 L3828.1 1047 L3832.3 1056.4 L3857 1094 L3881.7 1056.4 L3885.9 1047 L3890.1 1042.4 L3894.3 1039.4 L3898.5 1037.6 L3902.7 1037 L3906.8 1037.6 L3911 1039.4 L3915.2 1042.4 L3919.4 1047 L3923.6 1056.4 L3948.3 1094 L3972.2 1056.4 L3976.3 1047 L3980.4 1042.4 L3984.5 1039.4 L3988.6 1037.6 L3992.7 1037 L3996.7 1037.6 L4000.8 1039.4 L4004.9 1042.4 L4009 1047 L4013.1 1056.4 L4037 1094 L4061 1056.4 L4065.1 1047 L4069.2 1042.4 L4073.3 1039.4 L4077.4 1037.6 L4081.5 1037 L4085.6 1037.6 L4089.7 1039.4 L4093.8 1042.4 L4097.9 1047 L4102 1056.4 L4126 1094 L4148.7 1056.4 L4152.5 1047 L4156.4 1042.4 L4160.3 1039.4 L4164.1 1037.6 L4168 1037 L4171.9 1037.6 L4175.7 1039.4 L4179.6 1042.4 L4183.5 1047 L4187.3 1056.4 L4210 1094 L4232.7 1056.4 L4236.5 1047 L4240.4 1042.4 L4244.3 1039.4 L4248.1 1037.6 L4252 1037 L4255.9 1037.6 L4259.7 1039.4 L4263.6 1042.4 L4267.5 1047 L4271.3 1056.4 L4294 1094 L4342 1094 L4319.3 1056.4 L4315.5 1047 L4311.6 1042.4 L4307.7 1039.4 L4303.9 1037.6 L4300 1037 L4296.1 1037.6 L4292.3 1039.4 L4288.4 1042.4 L4284.5 1047 L4280.7 1056.4 L4258 1094 L4235.3 1056.4 L4231.5 1047 L4227.6 1042.4 L4223.7 1039.4 L4219.9 1037.6 L4216 1037 L4212.1 1037.6 L4208.3 1039.4 L4204.4 1042.4 L4200.5 1047 L4196.7 1056.4 L4174 1094 L4150.7 1056.4 L4146.7 1047 L4142.8 1042.4 L4138.8 1039.4 L4134.8 1037.6 L4130.9 1037 L4126.9 1037.6 L4122.9 1039.4 L4118.9 1042.4 L4115 1047 L4111 1056.4 L4087.7 1094 L4064.3 1056.4 L4060.3 1047 L4056.3 1042.4 L4052.3 1039.4 L4048.3 1037.6 L4044.3 1037 L4040.4 1037.6 L4036.4 1039.4 L4032.4 1042.4 L4028.4 1047 L4024.4 1056.4 L4001 1094 L3976.4 1056.4 L3972.2 1047 L3968 1042.4 L3963.8 1039.4 L3959.6 1037.6 L3955.4 1037 L3951.2 1037.6 L3947 1039.4 L3942.8 1042.4 L3938.6 1047 L3934.4 1056.4 L3909.8 1094 L3885.1 1056.4 L3880.9 1047 L3876.7 1042.4 L3872.5 1039.4 L3868.3 1037.6 L3864.2 1037 L3860 1037.6 L3855.8 1039.4 L3851.6 1042.4 L3847.4 1047 L3843.2 1056.4 L3818.5 1094 L3793.2 1056.4 L3788.9 1047 L3784.5 1042.4 L3780.2 1039.4 L3775.9 1037.6 L3771.6 1037 L3767.3 1037.6 L3763 1039.4 L3758.7 1042.4 L3754.3 1047 L3750 1056.4 L3724.7 1094 L3698.8 1056.4 L3694.3 1047 L3689.9 1042.4 L3685.5 1039.4 L3681.1 1037.6 L3676.6 1037 L3672.2 1037.6 L3667.8 1039.4 L3663.4 1042.4 L3659 1047 L3654.5 1056.4 L3628.6 1094 L3602 1056.4 L3597.4 1047 L3592.9 1042.4 L3588.4 1039.4 L3583.8 1037.6 L3579.3 1037 L3574.8 1037.6 L3570.2 1039.4 L3565.7 1042.4 L3561.2 1047 L3556.6 1056.4 L3530 1094 L3504.1 1056.4 L3499.7 1047 L3495.2 1042.4 L3490.8 1039.4 L3486.4 1037.6 L3482 1037 L3477.6 1037.6 L3473.2 1039.4 L3468.8 1042.4 L3464.3 1047 L3459.9 1056.4 L3434 1094 L3408.1 1056.4 L3403.7 1047 L3399.2 1042.4 L3394.8 1039.4 L3390.4 1037.6 L3386 1037 L3381.6 1037.6 L3377.2 1039.4 L3372.8 1042.4 L3368.3 1047 L3363.9 1056.4 L3338 1094 Z" fill="url(#dnastripe)" fill-rule="nonzero"/>
<path d="M3279.7 1094 L3305.7 1056.4 L3310.1 1047 L3314.6 1042.4 L3319 1039.4 L3323.4 1037.6 L3327.8 1037 L3332.3 1037.6 L3336.7 1039.4 L3341.1 1042.4 L3345.6 1047 L3350 1056.4 L3376 1094 L3402 1056.4 L3406.4 1047 L3410.9 1042.4 L3415.3 1039.4 L3419.7 1037.6 L3424.2 1037 L3428.6 1037.6 L3433 1039.4 L3437.4 1042.4 L3441.9 1047 L3446.3 1056.4 L3472.3 1094 L3498.3 1056.4 L3502.7 1047 L3507.1 1042.4 L3511.5 1039.4 L3516 1037.6 L3520.4 1037 L3524.8 1037.6 L3529.3 1039.4 L3533.7 1042.4 L3538.1 1047 L3542.5 1056.4 L3568.5 1094 L3595.1 1056.4 L3599.6 1047 L3604.2 1042.4 L3608.7 1039.4 L3613.2 1037.6 L3617.8 1037 L3622.3 1037.6 L3626.8 1039.4 L3631.3 1042.4 L3635.9 1047 L3640.4 1056.4 L3667 1094 L3693.6 1056.4 L3698.2 1047 L3702.7 1042.4 L3707.2 1039.4 L3711.8 1037.6 L3716.3 1037 L3720.8 1037.6 L3725.4 1039.4 L3729.9 1042.4 L3734.4 1047 L3739 1056.4 L3765.6 1094 L3790.3 1056.4 L3794.5 1047 L3798.7 1042.4 L3802.9 1039.4 L3807.1 1037.6 L3811.3 1037 L3815.5 1037.6 L3819.7 1039.4 L3823.9 1042.4 L3828.1 1047 L3832.3 1056.4 L3857 1094 L3881.7 1056.4 L3885.9 1047 L3890.1 1042.4 L3894.3 1039.4 L3898.5 1037.6 L3902.7 1037 L3906.8 1037.6 L3911 1039.4 L3915.2 1042.4 L3919.4 1047 L3923.6 1056.4 L3948.3 1094 L3972.2 1056.4 L3976.3 1047 L3980.4 1042.4 L3984.5 1039.4 L3988.6 1037.6 L3992.7 1037 L3996.7 1037.6 L4000.8 1039.4 L4004.9 1042.4 L4009 1047 L4013.1 1056.4 L4037 1094 L4061 1056.4 L4065.1 1047 L4069.2 1042.4 L4073.3 1039.4 L4077.4 1037.6 L4081.5 1037 L4085.6 1037.6 L4089.7 1039.4 L4093.8 1042.4 L4097.9 1047 L4102 1056.4 L4126 1094 L4148.7 1056.4 L4152.5 1047 L4156.4 1042.4 L4160.3 1039.4 L4164.1 1037.6 L4168 1037 L4171.9 1037.6 L4175.7 1039.4 L4179.6 1042.4 L4183.5 1047 L4187.3 1056.4 L4210 1094 L4232.7 1056.4 L4236.5 1047 L4240.4 1042.4 L4244.3 1039.4 L4248.1 1037.6 L4252 1037 L4255.9 1037.6 L4259.7 1039.4 L4263.6 1042.4 L4267.5 1047 L4271.3 1056.4 L4294 1094 L4342 1094 L4319.3 1056.4 L4315.5 1047 L4311.6 1042.4 L4307.7 1039.4 L4303.9 1037.6 L4300 1037 L4296.1 1037.6 L4292.3 1039.4 L4288.4 1042.4 L4284.5 1047 L4280.7 1056.4 L4258 1094 L4235.3 1056.4 L4231.5 1047 L4227.6 1042.4 L4223.7 1039.4 L4219.9 1037.6 L4216 1037 L4212.1 1037.6 L4208.3 1039.4 L4204.4 1042.4 L4200.5 1047 L4196.7 1056.4 L4174 1094 L4150.7 1056.4 L4146.7 1047 L4142.8 1042.4 L4138.8 1039.4 L4134.8 1037.6 L4130.9 1037 L4126.9 1037.6 L4122.9 1039.4 L4118.9 1042.4 L4115 1047 L4111 1056.4 L4087.7 1094 L4064.3 1056.4 L4060.3 1047 L4056.3 1042.4 L4052.3 1039.4 L4048.3 1037.6 L4044.3 1037 L4040.4 1037.6 L4036.4 1039.4 L4032.4 1042.4 L4028.4 1047 L4024.4 1056.4 L4001 1094 L3976.4 1056.4 L3972.2 1047 L3968 1042.4 L3963.8 1039.4 L3959.6 1037.6 L3955.4 1037 L3951.2 1037.6 L3947 1039.4 L3942.8 1042.4 L3938.6 1047 L3934.4 1056.4 L3909.8 1094 L3885.1 1056.4 L3880.9 1047 L3876.7 1042.4 L3872.5 1039.4 L3868.3 1037.6 L3864.2 1037 L3860 1037.6 L3855.8 1039.4 L3851.6 1042.4 L3847.4 1047 L3843.2 1056.4 L3818.5 1094 L3793.2 1056.4 L3788.9 1047 L3784.5 1042.4 L3780.2 1039.4 L3775.9 1037.6 L3771.6 1037 L3767.3 1037.6 L3763 1039.4 L3758.7 1042.4 L3754.3 1047 L3750 1056.4 L3724.7 1094 L3698.8 1056.4 L3694.3 1047 L3689.9 1042.4 L3685.5 1039.4 L3681.1 1037.6 L3676.6 1037 L3672.2 1037.6 L3667.8 1039.4 L3663.4 1042.4 L3659 1047 L3654.5 1056.4 L3628.6 1094 L3602 1056.4 L3597.4 1047 L3592.9 1042.4 L3588.4 1039.4 L3583.8 1037.6 L3579.3 1037 L3574.8 1037.6 L3570.2 1039.4 L3565.7 1042.4 L3561.2 1047 L3556.6 1056.4 L3530 1094 L3504.1 1056.4 L3499.7 1047 L3495.2 1042.4 L3490.8 1039.4 L3486.4 1037.6 L3482 1037 L3477.6 1037.6 L3473.2 1039.4 L3468.8 1042.4 L3464.3 1047 L3459.9 1056.4 L3434 1094 L3408.1 1056.4 L3403.7 1047 L3399.2 1042.4 L3394.8 1039.4 L3390.4 1037.6 L3386 1037 L3381.6 1037.6 L3377.2 1039.4 L3372.8 1042.4 L3368.3 1047 L3363.9 1056.4 L3338 1094 Z" fill="url(#dnafade)" fill-rule="nonzero"/>
<path d="M3279.7 1094 L3305.7 1056.4 L3310.1 1047 L3314.6 1042.4 L3319 1039.4 L3323.4 1037.6 L3327.8 1037 L3332.3 1037.6 L3336.7 1039.4 L3341.1 1042.4 L3345.6 1047 L3350 1056.4 L3376 1094 L3402 1056.4 L3406.4 1047 L3410.9 1042.4 L3415.3 1039.4 L3419.7 1037.6 L3424.2 1037 L3428.6 1037.6 L3433 1039.4 L3437.4 1042.4 L3441.9 1047 L3446.3 1056.4 L3472.3 1094 L3498.3 1056.4 L3502.7 1047 L3507.1 1042.4 L3511.5 1039.4 L3516 1037.6 L3520.4 1037 L3524.8 1037.6 L3529.3 1039.4 L3533.7 1042.4 L3538.1 1047 L3542.5 1056.4 L3568.5 1094 L3595.1 1056.4 L3599.6 1047 L3604.2 1042.4 L3608.7 1039.4 L3613.2 1037.6 L3617.8 1037 L3622.3 1037.6 L3626.8 1039.4 L3631.3 1042.4 L3635.9 1047 L3640.4 1056.4 L3667 1094 L3693.6 1056.4 L3698.2 1047 L3702.7 1042.4 L3707.2 1039.4 L3711.8 1037.6 L3716.3 1037 L3720.8 1037.6 L3725.4 1039.4 L3729.9 1042.4 L3734.4 1047 L3739 1056.4 L3765.6 1094 L3790.3 1056.4 L3794.5 1047 L3798.7 1042.4 L3802.9 1039.4 L3807.1 1037.6 L3811.3 1037 L3815.5 1037.6 L3819.7 1039.4 L3823.9 1042.4 L3828.1 1047 L3832.3 1056.4 L3857 1094 L3881.7 1056.4 L3885.9 1047 L3890.1 1042.4 L3894.3 1039.4 L3898.5 1037.6 L3902.7 1037 L3906.8 1037.6 L3911 1039.4 L3915.2 1042.4 L3919.4 1047 L3923.6 1056.4 L3948.3 1094 L3972.2 1056.4 L3976.3 1047 L3980.4 1042.4 L3984.5 1039.4 L3988.6 1037.6 L3992.7 1037 L3996.7 1037.6 L4000.8 1039.4 L4004.9 1042.4 L4009 1047 L4013.1 1056.4 L4037 1094 L4061 1056.4 L4065.1 1047 L4069.2 1042.4 L4073.3 1039.4 L4077.4 1037.6 L4081.5 1037 L4085.6 1037.6 L4089.7 1039.4 L4093.8 1042.4 L4097.9 1047 L4102 1056.4 L4126 1094 L4148.7 1056.4 L4152.5 1047 L4156.4 1042.4 L4160.3 1039.4 L4164.1 1037.6 L4168 1037 L4171.9 1037.6 L4175.7 1039.4 L4179.6 1042.4 L4183.5 1047 L4187.3 1056.4 L4210 1094 L4232.7 1056.4 L4236.5 1047 L4240.4 1042.4 L4244.3 1039.4 L4248.1 1037.6 L4252 1037 L4255.9 1037.6 L4259.7 1039.4 L4263.6 1042.4 L4267.5 1047 L4271.3 1056.4 L4294 1094" fill="none" stroke="#d98f38" stroke-width="2.2" stroke-linejoin="round"/>
<path d="M3338 1094 L3363.9 1056.4 L3368.3 1047 L3372.8 1042.4 L3377.2 1039.4 L3381.6 1037.6 L3386 1037 L3390.4 1037.6 L3394.8 1039.4 L3399.2 1042.4 L3403.7 1047 L3408.1 1056.4 L3434 1094 L3459.9 1056.4 L3464.3 1047 L3468.8 1042.4 L3473.2 1039.4 L3477.6 1037.6 L3482 1037 L3486.4 1037.6 L3490.8 1039.4 L3495.2 1042.4 L3499.7 1047 L3504.1 1056.4 L3530 1094 L3556.6 1056.4 L3561.2 1047 L3565.7 1042.4 L3570.2 1039.4 L3574.8 1037.6 L3579.3 1037 L3583.8 1037.6 L3588.4 1039.4 L3592.9 1042.4 L3597.4 1047 L3602 1056.4 L3628.6 1094 L3654.5 1056.4 L3659 1047 L3663.4 1042.4 L3667.8 1039.4 L3672.2 1037.6 L3676.6 1037 L3681.1 1037.6 L3685.5 1039.4 L3689.9 1042.4 L3694.3 1047 L3698.8 1056.4 L3724.7 1094 L3750 1056.4 L3754.3 1047 L3758.7 1042.4 L3763 1039.4 L3767.3 1037.6 L3771.6 1037 L3775.9 1037.6 L3780.2 1039.4 L3784.5 1042.4 L3788.9 1047 L3793.2 1056.4 L3818.5 1094 L3843.2 1056.4 L3847.4 1047 L3851.6 1042.4 L3855.8 1039.4 L3860 1037.6 L3864.2 1037 L3868.3 1037.6 L3872.5 1039.4 L3876.7 1042.4 L3880.9 1047 L3885.1 1056.4 L3909.8 1094 L3934.4 1056.4 L3938.6 1047 L3942.8 1042.4 L3947 1039.4 L3951.2 1037.6 L3955.4 1037 L3959.6 1037.6 L3963.8 1039.4 L3968 1042.4 L3972.2 1047 L3976.4 1056.4 L4001 1094 L4024.4 1056.4 L4028.4 1047 L4032.4 1042.4 L4036.4 1039.4 L4040.4 1037.6 L4044.3 1037 L4048.3 1037.6 L4052.3 1039.4 L4056.3 1042.4 L4060.3 1047 L4064.3 1056.4 L4087.7 1094 L4111 1056.4 L4115 1047 L4118.9 1042.4 L4122.9 1039.4 L4126.9 1037.6 L4130.9 1037 L4134.8 1037.6 L4138.8 1039.4 L4142.8 1042.4 L4146.7 1047 L4150.7 1056.4 L4174 1094 L4196.7 1056.4 L4200.5 1047 L4204.4 1042.4 L4208.3 1039.4 L4212.1 1037.6 L4216 1037 L4219.9 1037.6 L4223.7 1039.4 L4227.6 1042.4 L4231.5 1047 L4235.3 1056.4 L4258 1094 L4280.7 1056.4 L4284.5 1047 L4288.4 1042.4 L4292.3 1039.4 L4296.1 1037.6 L4300 1037 L4303.9 1037.6 L4307.7 1039.4 L4311.6 1042.4 L4315.5 1047 L4319.3 1056.4 L4342 1094" fill="none" stroke="#d98f38" stroke-width="2.2" stroke-linejoin="round"/>
</g>
<path d="M3191.5 1040 L3191.5 927.5 L3378 927.5" fill="none" stroke="#222" stroke-width="5.5"/>
<path d="M3401 927.5 L3370 911 L3370 944Z" fill="#222"/>
<path transform="translate(3178,1003)" d="M0 52 C0 18 60 0 150 0 C215 0 262 10 266 28 C268 36 255 40 235 42 L204 50 C225 54 250 62 254 74 C256 92 215 102 150 102 C60 102 0 86 0 52Z" fill="#8db1cd"/>
<circle cx="3192.5" cy="979.5" r="38.5" fill="none" stroke="#0c0c0c" stroke-width="7"/>
<path d="M3165 1006 L3220 953" stroke="#0c0c0c" stroke-width="7"/>
<text transform="translate(3165,1151) scale(0.930,1)" font-size="40.5" letter-spacing="2.83" font-weight="bold" fill="#161616">RNA polymerase</text>
<path d="M464 1335.5 L4277 1335.5" stroke="#f5f5f5" stroke-width="1.2"/>
<text x="2265" y="1420.7" class="big b" text-anchor="end">RNA-seq</text>
<text x="2481" y="1420.7" class="big b">Phenotypic analysis</text>
<text x="2265" y="1534.3" class="big" text-anchor="end">cellular response to chemical  stress、response to chemical</text>
<text x="2481" y="1534.3" class="big">oxidative stress、hyperosmolarity stress</text>
<rect x="2297" y="1473.6" width="66.5" height="68" fill="#2fbfb0"/>
<rect x="2386" y="1473.6" width="66.5" height="68" fill="#2fbfb0"/>
<text x="2265" y="1646.3" class="big" text-anchor="end">Peroxisome、MAPK signaling pathway</text>
<text x="2481" y="1646.3" class="big">Traps</text>
<rect x="2297" y="1585" width="66.5" height="68" fill="#f2b705"/>
<rect x="2386" y="1585" width="66.5" height="68" fill="#f2b705"/>
<text x="2265" y="1762" class="big" text-anchor="end">Cell cycle、Nitrogen metabolism</text>
<text x="2481" y="1762" class="big">Mycelia growth and morphology</text>
<rect x="2297" y="1696" width="66.5" height="68" fill="#ee7f30"/>
<rect x="2386" y="1696" width="66.5" height="68" fill="#ee7f30"/>
<text x="2265" y="1874" class="big" text-anchor="end">conidium formation</text>
<text x="2481" y="1874" class="big">Conidiation</text>
<rect x="2297" y="1810" width="66.5" height="68" fill="#4672cb"/>
<rect x="2386" y="1810" width="66.5" height="68" fill="#4672cb"/>
<path d="M2349 1945 L2385 1945 L2385 2093 L2407 2093 L2367 2134 L2327.5 2093 L2349 2093Z" fill="#8faadc"/>
<rect x="503.5" y="2190.5" width="3705.5" height="223" fill="#fff" stroke="#8faadc" stroke-width="19"/>
<text x="544" y="2329" font-size="110.4">Stress response、Mycelia growth、Trap formation、Pathogenicity、Conidiation</text>
</svg>
</body></html>
